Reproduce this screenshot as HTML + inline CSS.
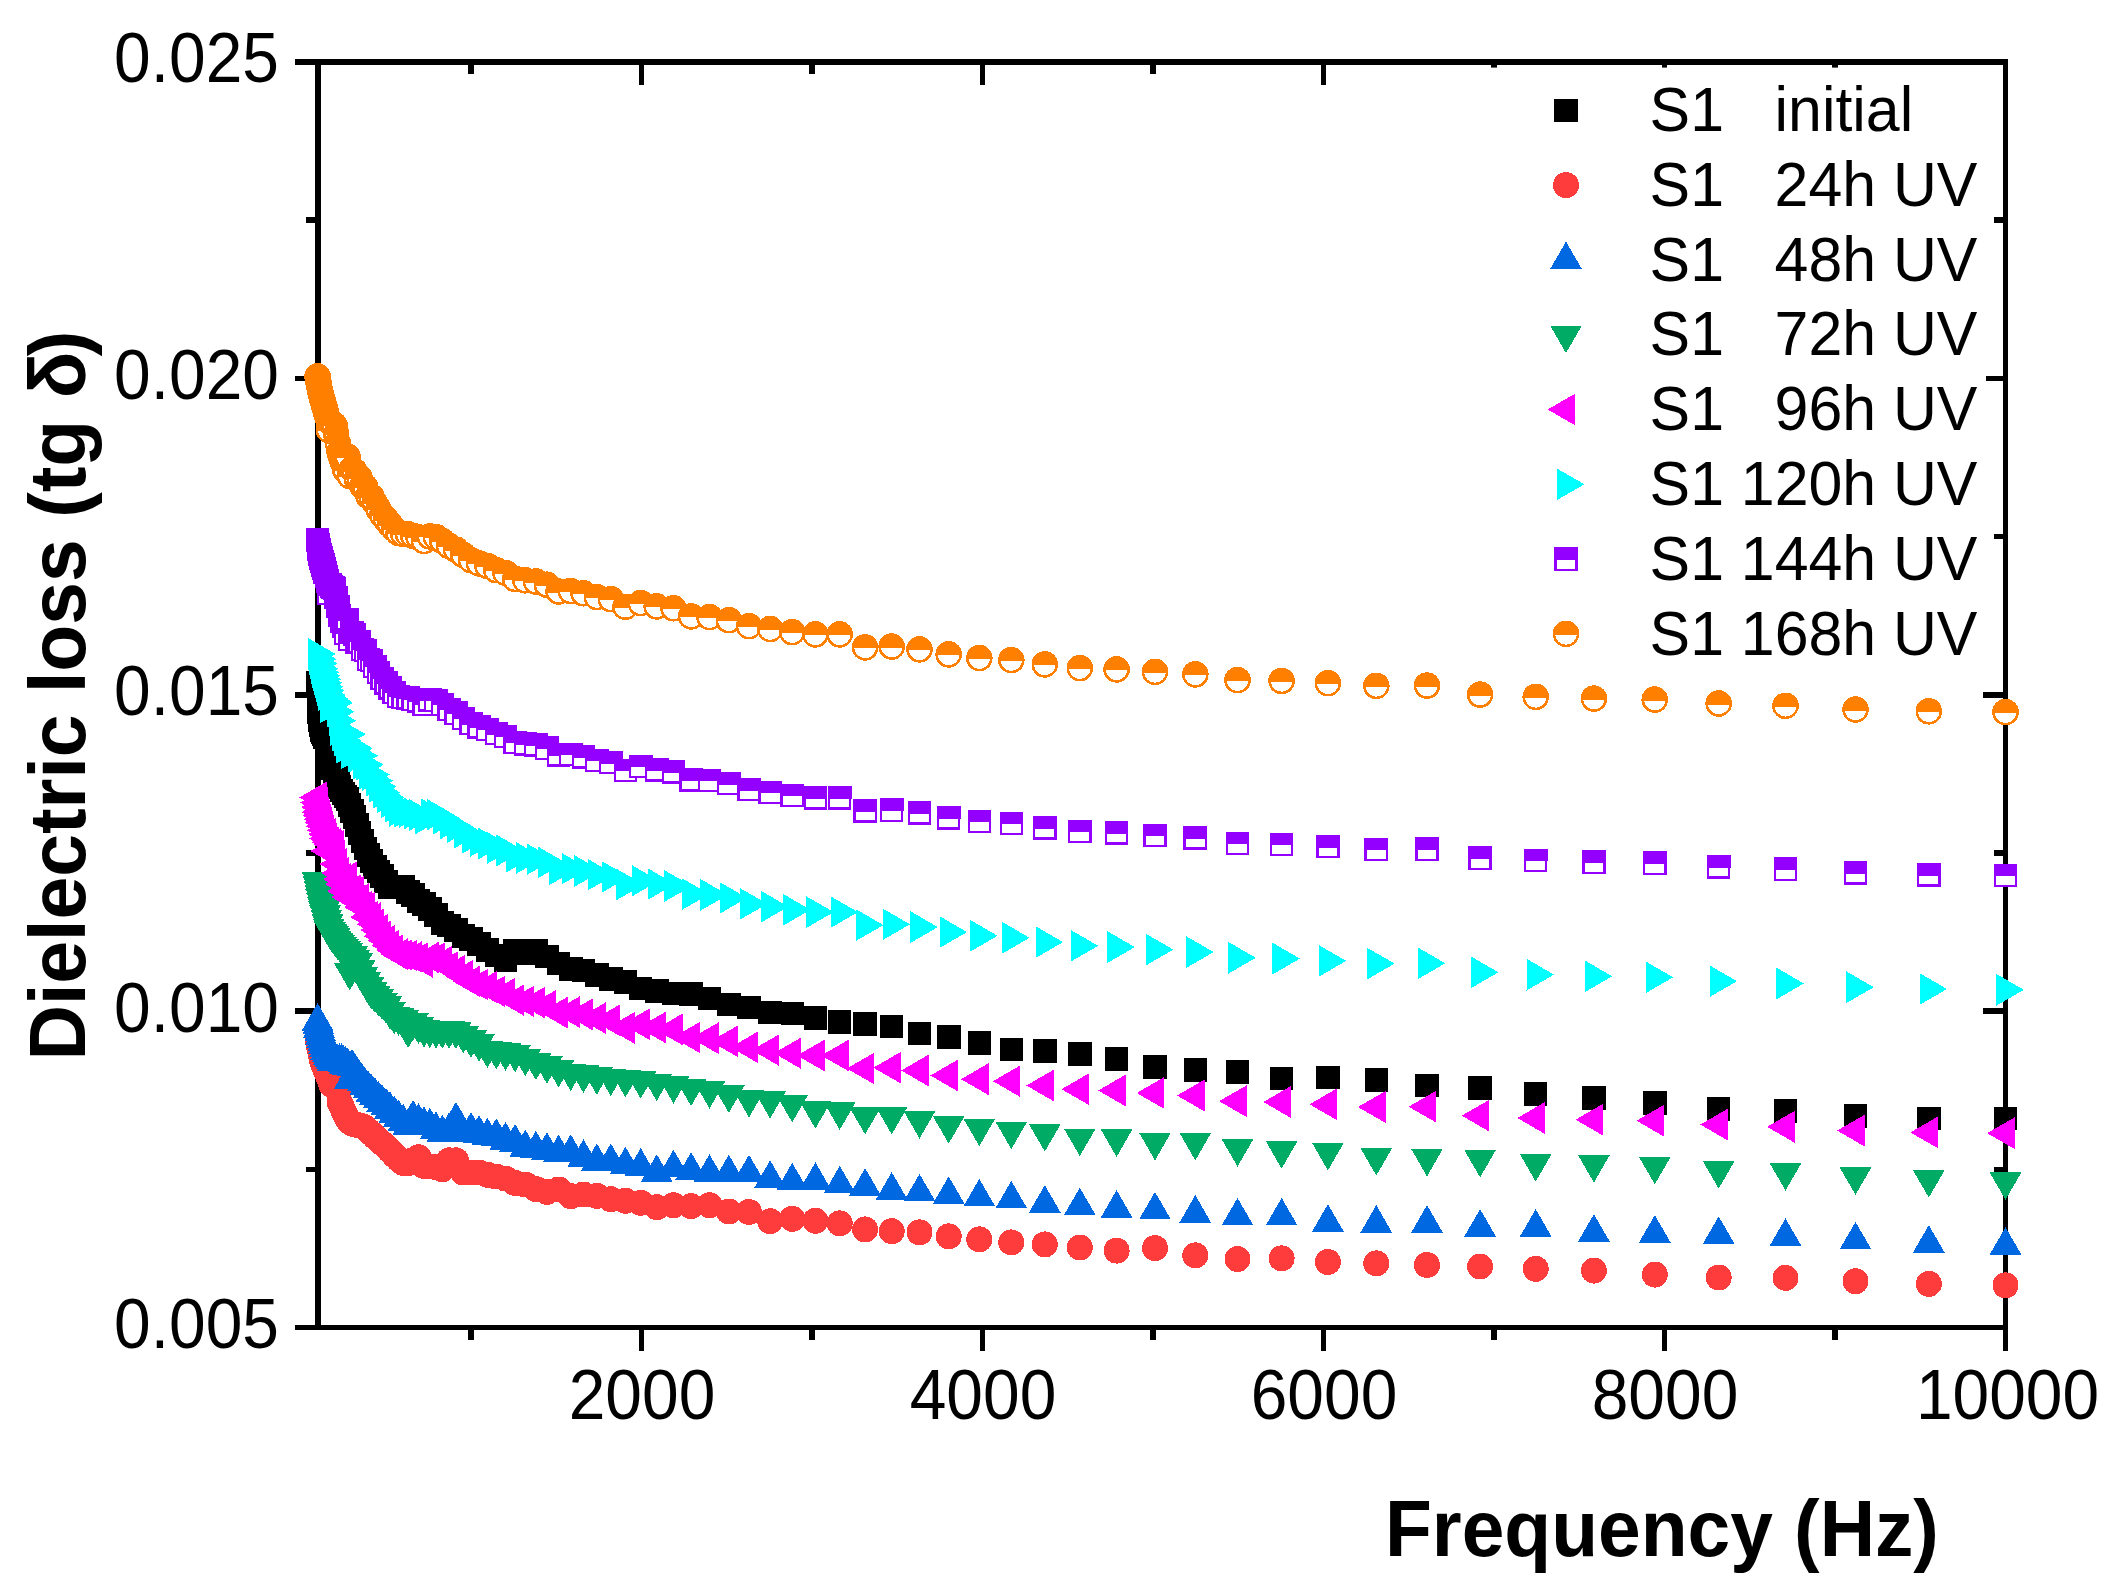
<!DOCTYPE html>
<html><head><meta charset="utf-8"><title>Dielectric loss</title>
<style>html,body{margin:0;padding:0;background:#fff}svg{display:block}text{font-family:"Liberation Sans",Arial,sans-serif;fill:#000}</style></head><body>
<svg width="2116" height="1596" viewBox="0 0 2116 1596">
<rect width="2116" height="1596" fill="#fff"/>
<g stroke="#000" stroke-width="5.5" fill="none" shape-rendering="crispEdges">
<path d="M295 62 H2008.25"/>
<path d="M295 1327.5 H2008.25"/>
<path d="M318 59.25 V1330.25"/>
<path d="M2005.5 59.25 V1351"/>
<path d="M306 220.2 H318"/>
<path d="M1993.5 220.2 H2005.5"/>
<path d="M295 378.4 H318"/>
<path d="M1982.5 378.4 H2005.5"/>
<path d="M306 536.6 H318"/>
<path d="M1993.5 536.6 H2005.5"/>
<path d="M295 694.8 H318"/>
<path d="M1982.5 694.8 H2005.5"/>
<path d="M306 852.9 H318"/>
<path d="M1993.5 852.9 H2005.5"/>
<path d="M295 1011.1 H318"/>
<path d="M1982.5 1011.1 H2005.5"/>
<path d="M306 1169.3 H318"/>
<path d="M1993.5 1169.3 H2005.5"/>
<path d="M471.0 1327.5 V1340"/>
<path d="M471.0 62 V74"/>
<path d="M641.5 1327.5 V1351"/>
<path d="M641.5 62 V85"/>
<path d="M812.0 1327.5 V1340"/>
<path d="M812.0 62 V74"/>
<path d="M982.5 1327.5 V1351"/>
<path d="M982.5 62 V85"/>
<path d="M1153.0 1327.5 V1340"/>
<path d="M1153.0 62 V74"/>
<path d="M1323.5 1327.5 V1351"/>
<path d="M1323.5 62 V85"/>
<path d="M1494.0 1327.5 V1340"/>
<path d="M1494.0 62 V74"/>
<path d="M1664.5 1327.5 V1351"/>
<path d="M1664.5 62 V85"/>
<path d="M1835.0 1327.5 V1340"/>
<path d="M1835.0 62 V74"/>
</g>
<g font-size="65.9" text-anchor="end">
<text transform="translate(279,82.4) scale(1,1.075)">0.025</text>
<text transform="translate(279,398.8) scale(1,1.075)">0.020</text>
<text transform="translate(279,715.1) scale(1,1.075)">0.015</text>
<text transform="translate(279,1031.5) scale(1,1.075)">0.010</text>
<text transform="translate(279,1347.9) scale(1,1.075)">0.005</text>
</g>
<g font-size="65.9" text-anchor="middle">
<text transform="translate(642.0,1418.7) scale(1,1.075)">2000</text>
<text transform="translate(983.0,1418.7) scale(1,1.075)">4000</text>
<text transform="translate(1324.0,1418.7) scale(1,1.075)">6000</text>
<text transform="translate(1665.0,1418.7) scale(1,1.075)">8000</text>
<text transform="translate(2007.5,1418.7) scale(1,1.075)">10000</text>
</g>
<text transform="translate(1385,1556) scale(1,1.04)" font-size="76.7" font-weight="bold">Frequency (Hz)</text>
<text transform="translate(85.1,1060.6) rotate(-90) scale(1,1.04)" font-size="76.9" font-weight="bold">Dielectric loss (tg δ<tspan dx="-4.5">)</tspan></text>
<g shape-rendering="crispEdges">
<g>
<rect x="305.8" y="671.2" width="23.5" height="23.5" fill="#000000"/>
<rect x="306.6" y="688.2" width="23.5" height="23.5" fill="#000000"/>
<rect x="307.4" y="700.2" width="23.5" height="23.5" fill="#000000"/>
<rect x="308.3" y="708.2" width="23.5" height="23.5" fill="#000000"/>
<rect x="309.2" y="713.2" width="23.5" height="23.5" fill="#000000"/>
<rect x="310.2" y="718.2" width="23.5" height="23.5" fill="#000000"/>
<rect x="311.2" y="720.2" width="23.5" height="23.5" fill="#000000"/>
<rect x="312.3" y="722.2" width="23.5" height="23.5" fill="#000000"/>
<rect x="313.4" y="725.9" width="23.5" height="23.5" fill="#000000"/>
<rect x="314.6" y="731.2" width="23.5" height="23.5" fill="#000000"/>
<rect x="315.8" y="736.4" width="23.5" height="23.5" fill="#000000"/>
<rect x="317" y="741.5" width="23.5" height="23.5" fill="#000000"/>
<rect x="318.4" y="746.6" width="23.5" height="23.5" fill="#000000"/>
<rect x="319.8" y="751.7" width="23.5" height="23.5" fill="#000000"/>
<rect x="321.2" y="756.5" width="23.5" height="23.5" fill="#000000"/>
<rect x="322.8" y="761.2" width="23.5" height="23.5" fill="#000000"/>
<rect x="324.4" y="766" width="23.5" height="23.5" fill="#000000"/>
<rect x="326.1" y="770.7" width="23.5" height="23.5" fill="#000000"/>
<rect x="327.8" y="775.4" width="23.5" height="23.5" fill="#000000"/>
<rect x="329.7" y="778.9" width="23.5" height="23.5" fill="#000000"/>
<rect x="331.6" y="781.7" width="23.5" height="23.5" fill="#000000"/>
<rect x="333.6" y="784.5" width="23.5" height="23.5" fill="#000000"/>
<rect x="335.7" y="787.2" width="23.5" height="23.5" fill="#000000"/>
<rect x="337.9" y="793.3" width="23.5" height="23.5" fill="#000000"/>
<rect x="340.2" y="799.4" width="23.5" height="23.5" fill="#000000"/>
<rect x="342.7" y="805.4" width="23.5" height="23.5" fill="#000000"/>
<rect x="345.2" y="813.1" width="23.5" height="23.5" fill="#000000"/>
<rect x="347.9" y="821.4" width="23.5" height="23.5" fill="#000000"/>
<rect x="350.7" y="829.4" width="23.5" height="23.5" fill="#000000"/>
<rect x="353.6" y="836.5" width="23.5" height="23.5" fill="#000000"/>
<rect x="356.6" y="843.4" width="23.5" height="23.5" fill="#000000"/>
<rect x="359.8" y="849.3" width="23.5" height="23.5" fill="#000000"/>
<rect x="363.2" y="855.2" width="23.5" height="23.5" fill="#000000"/>
<rect x="366.7" y="859.8" width="23.5" height="23.5" fill="#000000"/>
<rect x="370.4" y="864.3" width="23.5" height="23.5" fill="#000000"/>
<rect x="374.2" y="869.9" width="23.5" height="23.5" fill="#000000"/>
<rect x="378.2" y="875.2" width="23.5" height="23.5" fill="#000000"/>
<rect x="382.4" y="875.2" width="23.5" height="23.5" fill="#000000"/>
<rect x="386.9" y="875.2" width="23.5" height="23.5" fill="#000000"/>
<rect x="391.5" y="875.2" width="23.5" height="23.5" fill="#000000"/>
<rect x="396.3" y="880" width="23.5" height="23.5" fill="#000000"/>
<rect x="401.4" y="883.4" width="23.5" height="23.5" fill="#000000"/>
<rect x="406.7" y="889" width="23.5" height="23.5" fill="#000000"/>
<rect x="412.3" y="892.1" width="23.5" height="23.5" fill="#000000"/>
<rect x="418.1" y="897.1" width="23.5" height="23.5" fill="#000000"/>
<rect x="424.2" y="903.1" width="23.5" height="23.5" fill="#000000"/>
<rect x="430.6" y="911.2" width="23.5" height="23.5" fill="#000000"/>
<rect x="437.2" y="913.5" width="23.5" height="23.5" fill="#000000"/>
<rect x="444.2" y="918" width="23.5" height="23.5" fill="#000000"/>
<rect x="451.6" y="924.1" width="23.5" height="23.5" fill="#000000"/>
<rect x="459.2" y="927.2" width="23.5" height="23.5" fill="#000000"/>
<rect x="467.3" y="932.2" width="23.5" height="23.5" fill="#000000"/>
<rect x="475.7" y="938.2" width="23.5" height="23.5" fill="#000000"/>
<rect x="484.5" y="943.8" width="23.5" height="23.5" fill="#000000"/>
<rect x="493.7" y="948.1" width="23.5" height="23.5" fill="#000000"/>
<rect x="503.4" y="939.1" width="23.5" height="23.5" fill="#000000"/>
<rect x="513.5" y="941.5" width="23.5" height="23.5" fill="#000000"/>
<rect x="524.1" y="939.1" width="23.5" height="23.5" fill="#000000"/>
<rect x="535.2" y="944.8" width="23.5" height="23.5" fill="#000000"/>
<rect x="546.8" y="951.8" width="23.5" height="23.5" fill="#000000"/>
<rect x="559" y="957.2" width="23.5" height="23.5" fill="#000000"/>
<rect x="571.7" y="958.9" width="23.5" height="23.5" fill="#000000"/>
<rect x="585" y="963.1" width="23.5" height="23.5" fill="#000000"/>
<rect x="599" y="967" width="23.5" height="23.5" fill="#000000"/>
<rect x="613.6" y="970.2" width="23.5" height="23.5" fill="#000000"/>
<rect x="628.9" y="976.5" width="23.5" height="23.5" fill="#000000"/>
<rect x="645" y="979.2" width="23.5" height="23.5" fill="#000000"/>
<rect x="661.8" y="981.9" width="23.5" height="23.5" fill="#000000"/>
<rect x="679.3" y="982.4" width="23.5" height="23.5" fill="#000000"/>
<rect x="697.8" y="986.9" width="23.5" height="23.5" fill="#000000"/>
<rect x="717" y="992.9" width="23.5" height="23.5" fill="#000000"/>
<rect x="737.2" y="995.9" width="23.5" height="23.5" fill="#000000"/>
<rect x="758.3" y="1000.6" width="23.5" height="23.5" fill="#000000"/>
<rect x="780.5" y="1001.9" width="23.5" height="23.5" fill="#000000"/>
<rect x="803.7" y="1006.1" width="23.5" height="23.5" fill="#000000"/>
<rect x="827.9" y="1010.1" width="23.5" height="23.5" fill="#000000"/>
<rect x="853.3" y="1012.3" width="23.5" height="23.5" fill="#000000"/>
<rect x="879.9" y="1014.8" width="23.5" height="23.5" fill="#000000"/>
<rect x="907.8" y="1021.8" width="23.5" height="23.5" fill="#000000"/>
<rect x="937" y="1025.3" width="23.5" height="23.5" fill="#000000"/>
<rect x="967.5" y="1031.2" width="23.5" height="23.5" fill="#000000"/>
<rect x="999.5" y="1037.7" width="23.5" height="23.5" fill="#000000"/>
<rect x="1033" y="1039.2" width="23.5" height="23.5" fill="#000000"/>
<rect x="1068.1" y="1042" width="23.5" height="23.5" fill="#000000"/>
<rect x="1104.8" y="1047.3" width="23.5" height="23.5" fill="#000000"/>
<rect x="1143.3" y="1055.2" width="23.5" height="23.5" fill="#000000"/>
<rect x="1183.5" y="1058.2" width="23.5" height="23.5" fill="#000000"/>
<rect x="1225.7" y="1060.3" width="23.5" height="23.5" fill="#000000"/>
<rect x="1269.9" y="1066.8" width="23.5" height="23.5" fill="#000000"/>
<rect x="1316.1" y="1065.7" width="23.5" height="23.5" fill="#000000"/>
<rect x="1364.5" y="1068.2" width="23.5" height="23.5" fill="#000000"/>
<rect x="1415.2" y="1073.8" width="23.5" height="23.5" fill="#000000"/>
<rect x="1468.3" y="1076" width="23.5" height="23.5" fill="#000000"/>
<rect x="1523.9" y="1082.2" width="23.5" height="23.5" fill="#000000"/>
<rect x="1582.1" y="1086" width="23.5" height="23.5" fill="#000000"/>
<rect x="1643.1" y="1091" width="23.5" height="23.5" fill="#000000"/>
<rect x="1706.9" y="1097" width="23.5" height="23.5" fill="#000000"/>
<rect x="1773.7" y="1099.2" width="23.5" height="23.5" fill="#000000"/>
<rect x="1843.7" y="1104" width="23.5" height="23.5" fill="#000000"/>
<rect x="1917" y="1106.8" width="23.5" height="23.5" fill="#000000"/>
<rect x="1993.8" y="1106.8" width="23.5" height="23.5" fill="#000000"/>
</g>
<g>
<circle cx="317.6" cy="1038" r="13" fill="#FF3C3C"/>
<circle cx="318.4" cy="1042.4" r="13" fill="#FF3C3C"/>
<circle cx="319.2" cy="1046.9" r="13" fill="#FF3C3C"/>
<circle cx="320.1" cy="1051.3" r="13" fill="#FF3C3C"/>
<circle cx="321" cy="1055.7" r="13" fill="#FF3C3C"/>
<circle cx="322" cy="1060.1" r="13" fill="#FF3C3C"/>
<circle cx="323" cy="1063.8" r="13" fill="#FF3C3C"/>
<circle cx="324" cy="1066.4" r="13" fill="#FF3C3C"/>
<circle cx="325.1" cy="1068.9" r="13" fill="#FF3C3C"/>
<circle cx="326.3" cy="1071.5" r="13" fill="#FF3C3C"/>
<circle cx="327.5" cy="1074" r="13" fill="#FF3C3C"/>
<circle cx="328.8" cy="1077.7" r="13" fill="#FF3C3C"/>
<circle cx="330.1" cy="1081.3" r="13" fill="#FF3C3C"/>
<circle cx="331.5" cy="1085" r="13" fill="#FF3C3C"/>
<circle cx="333" cy="1085.9" r="13" fill="#FF3C3C"/>
<circle cx="334.5" cy="1086.8" r="13" fill="#FF3C3C"/>
<circle cx="336.1" cy="1088.1" r="13" fill="#FF3C3C"/>
<circle cx="337.8" cy="1090" r="13" fill="#FF3C3C"/>
<circle cx="339.6" cy="1101.8" r="13" fill="#FF3C3C"/>
<circle cx="341.4" cy="1106.2" r="13" fill="#FF3C3C"/>
<circle cx="343.3" cy="1110.4" r="13" fill="#FF3C3C"/>
<circle cx="345.3" cy="1114.5" r="13" fill="#FF3C3C"/>
<circle cx="347.5" cy="1118.6" r="13" fill="#FF3C3C"/>
<circle cx="349.7" cy="1122.1" r="13" fill="#FF3C3C"/>
<circle cx="352" cy="1123.5" r="13" fill="#FF3C3C"/>
<circle cx="354.4" cy="1124.2" r="13" fill="#FF3C3C"/>
<circle cx="357" cy="1124.8" r="13" fill="#FF3C3C"/>
<circle cx="359.6" cy="1125.5" r="13" fill="#FF3C3C"/>
<circle cx="362.4" cy="1126.2" r="13" fill="#FF3C3C"/>
<circle cx="365.3" cy="1127.8" r="13" fill="#FF3C3C"/>
<circle cx="368.4" cy="1130.7" r="13" fill="#FF3C3C"/>
<circle cx="371.6" cy="1133.6" r="13" fill="#FF3C3C"/>
<circle cx="374.9" cy="1136.7" r="13" fill="#FF3C3C"/>
<circle cx="378.4" cy="1140" r="13" fill="#FF3C3C"/>
<circle cx="382.1" cy="1143.3" r="13" fill="#FF3C3C"/>
<circle cx="386" cy="1146.6" r="13" fill="#FF3C3C"/>
<circle cx="390" cy="1150.7" r="13" fill="#FF3C3C"/>
<circle cx="394.2" cy="1155.1" r="13" fill="#FF3C3C"/>
<circle cx="398.6" cy="1159.4" r="13" fill="#FF3C3C"/>
<circle cx="403.2" cy="1163" r="13" fill="#FF3C3C"/>
<circle cx="408.1" cy="1163" r="13" fill="#FF3C3C"/>
<circle cx="413.1" cy="1160" r="13" fill="#FF3C3C"/>
<circle cx="418.5" cy="1157.2" r="13" fill="#FF3C3C"/>
<circle cx="424" cy="1166" r="13" fill="#FF3C3C"/>
<circle cx="429.8" cy="1166.5" r="13" fill="#FF3C3C"/>
<circle cx="435.9" cy="1167" r="13" fill="#FF3C3C"/>
<circle cx="442.3" cy="1169.3" r="13" fill="#FF3C3C"/>
<circle cx="449" cy="1160.3" r="13" fill="#FF3C3C"/>
<circle cx="456" cy="1160.3" r="13" fill="#FF3C3C"/>
<circle cx="463.3" cy="1172.5" r="13" fill="#FF3C3C"/>
<circle cx="471" cy="1172.5" r="13" fill="#FF3C3C"/>
<circle cx="479" cy="1172.5" r="13" fill="#FF3C3C"/>
<circle cx="487.4" cy="1174.7" r="13" fill="#FF3C3C"/>
<circle cx="496.3" cy="1176.5" r="13" fill="#FF3C3C"/>
<circle cx="505.5" cy="1178.5" r="13" fill="#FF3C3C"/>
<circle cx="515.1" cy="1183" r="13" fill="#FF3C3C"/>
<circle cx="525.3" cy="1184.5" r="13" fill="#FF3C3C"/>
<circle cx="535.9" cy="1189" r="13" fill="#FF3C3C"/>
<circle cx="546.9" cy="1191.8" r="13" fill="#FF3C3C"/>
<circle cx="558.6" cy="1189.5" r="13" fill="#FF3C3C"/>
<circle cx="570.7" cy="1196.2" r="13" fill="#FF3C3C"/>
<circle cx="583.5" cy="1194.5" r="13" fill="#FF3C3C"/>
<circle cx="596.8" cy="1195.8" r="13" fill="#FF3C3C"/>
<circle cx="610.8" cy="1199.2" r="13" fill="#FF3C3C"/>
<circle cx="625.4" cy="1200.8" r="13" fill="#FF3C3C"/>
<circle cx="640.7" cy="1202.8" r="13" fill="#FF3C3C"/>
<circle cx="656.7" cy="1207.2" r="13" fill="#FF3C3C"/>
<circle cx="673.5" cy="1205.2" r="13" fill="#FF3C3C"/>
<circle cx="691.1" cy="1206.2" r="13" fill="#FF3C3C"/>
<circle cx="709.5" cy="1205.2" r="13" fill="#FF3C3C"/>
<circle cx="728.8" cy="1211.5" r="13" fill="#FF3C3C"/>
<circle cx="749" cy="1212" r="13" fill="#FF3C3C"/>
<circle cx="770.1" cy="1221.2" r="13" fill="#FF3C3C"/>
<circle cx="792.2" cy="1218.8" r="13" fill="#FF3C3C"/>
<circle cx="815.4" cy="1220.8" r="13" fill="#FF3C3C"/>
<circle cx="839.7" cy="1223.4" r="13" fill="#FF3C3C"/>
<circle cx="865.1" cy="1229.4" r="13" fill="#FF3C3C"/>
<circle cx="891.7" cy="1231.2" r="13" fill="#FF3C3C"/>
<circle cx="919.5" cy="1232.4" r="13" fill="#FF3C3C"/>
<circle cx="948.7" cy="1236.4" r="13" fill="#FF3C3C"/>
<circle cx="979.3" cy="1239.4" r="13" fill="#FF3C3C"/>
<circle cx="1011.3" cy="1242.4" r="13" fill="#FF3C3C"/>
<circle cx="1044.8" cy="1244.4" r="13" fill="#FF3C3C"/>
<circle cx="1079.8" cy="1247.5" r="13" fill="#FF3C3C"/>
<circle cx="1116.6" cy="1250.6" r="13" fill="#FF3C3C"/>
<circle cx="1155" cy="1248.1" r="13" fill="#FF3C3C"/>
<circle cx="1195.3" cy="1255.4" r="13" fill="#FF3C3C"/>
<circle cx="1237.5" cy="1259.1" r="13" fill="#FF3C3C"/>
<circle cx="1281.6" cy="1258.4" r="13" fill="#FF3C3C"/>
<circle cx="1327.9" cy="1262" r="13" fill="#FF3C3C"/>
<circle cx="1376.3" cy="1263.4" r="13" fill="#FF3C3C"/>
<circle cx="1427" cy="1265" r="13" fill="#FF3C3C"/>
<circle cx="1480.1" cy="1266.5" r="13" fill="#FF3C3C"/>
<circle cx="1535.7" cy="1268.9" r="13" fill="#FF3C3C"/>
<circle cx="1593.9" cy="1270.6" r="13" fill="#FF3C3C"/>
<circle cx="1654.8" cy="1274.6" r="13" fill="#FF3C3C"/>
<circle cx="1718.7" cy="1277.5" r="13" fill="#FF3C3C"/>
<circle cx="1785.5" cy="1277.9" r="13" fill="#FF3C3C"/>
<circle cx="1855.5" cy="1281.2" r="13" fill="#FF3C3C"/>
<circle cx="1928.8" cy="1283.9" r="13" fill="#FF3C3C"/>
<circle cx="2005.5" cy="1285.4" r="13" fill="#FF3C3C"/>
</g>
<g>
<path d="M317.6 1003.1L333.4 1030.7L301.7 1030.7Z" fill="#0068E0"/>
<path d="M318.4 1006.6L334.3 1034.2L302.5 1034.2Z" fill="#0068E0"/>
<path d="M319.2 1010.1L335.1 1037.6L303.3 1037.6Z" fill="#0068E0"/>
<path d="M320.1 1013.6L336 1041.1L304.2 1041.1Z" fill="#0068E0"/>
<path d="M321 1017.1L336.9 1044.6L305.1 1044.6Z" fill="#0068E0"/>
<path d="M322 1020.6L337.9 1048.1L306.1 1048.1Z" fill="#0068E0"/>
<path d="M323 1023.8L338.9 1051.3L307.1 1051.3Z" fill="#0068E0"/>
<path d="M324 1026.5L339.9 1054.1L308.1 1054.1Z" fill="#0068E0"/>
<path d="M325.1 1029.3L341 1056.8L309.2 1056.8Z" fill="#0068E0"/>
<path d="M326.3 1032.1L342.2 1059.6L310.4 1059.6Z" fill="#0068E0"/>
<path d="M327.5 1034.9L343.4 1062.4L311.6 1062.4Z" fill="#0068E0"/>
<path d="M328.8 1037.6L344.7 1065.2L312.9 1065.2Z" fill="#0068E0"/>
<path d="M330.1 1039.6L346 1067.2L314.2 1067.2Z" fill="#0068E0"/>
<path d="M331.5 1041.6L347.4 1069.2L315.6 1069.2Z" fill="#0068E0"/>
<path d="M333 1043.6L348.9 1071.2L317.1 1071.2Z" fill="#0068E0"/>
<path d="M334.5 1043.5L350.4 1071.1L318.6 1071.1Z" fill="#0068E0"/>
<path d="M336.1 1043.4L352 1070.9L320.2 1070.9Z" fill="#0068E0"/>
<path d="M337.8 1043.3L353.7 1070.8L321.9 1070.8Z" fill="#0068E0"/>
<path d="M339.6 1043.2L355.5 1070.7L323.7 1070.7Z" fill="#0068E0"/>
<path d="M341.4 1043L357.3 1070.6L325.5 1070.6Z" fill="#0068E0"/>
<path d="M343.3 1044.6L359.2 1072.1L327.4 1072.1Z" fill="#0068E0"/>
<path d="M345.3 1046.1L361.2 1073.6L329.4 1073.6Z" fill="#0068E0"/>
<path d="M347.5 1047.6L363.4 1075.2L331.6 1075.2Z" fill="#0068E0"/>
<path d="M349.7 1061.6L365.6 1089.2L333.8 1089.2Z" fill="#0068E0"/>
<path d="M352 1048.7L367.9 1076.3L336.1 1076.3Z" fill="#0068E0"/>
<path d="M354.4 1052.5L370.3 1080L338.5 1080Z" fill="#0068E0"/>
<path d="M357 1056.3L372.9 1083.8L341.1 1083.8Z" fill="#0068E0"/>
<path d="M359.6 1060L375.5 1087.6L343.7 1087.6Z" fill="#0068E0"/>
<path d="M362.4 1063.8L378.3 1091.3L346.5 1091.3Z" fill="#0068E0"/>
<path d="M365.3 1067.5L381.2 1095.1L349.4 1095.1Z" fill="#0068E0"/>
<path d="M368.4 1070.8L384.3 1098.4L352.5 1098.4Z" fill="#0068E0"/>
<path d="M371.6 1074.1L387.5 1101.7L355.7 1101.7Z" fill="#0068E0"/>
<path d="M374.9 1077.4L390.8 1104.9L359 1104.9Z" fill="#0068E0"/>
<path d="M378.4 1080.7L394.3 1108.3L362.5 1108.3Z" fill="#0068E0"/>
<path d="M382.1 1084.3L398 1111.8L366.2 1111.8Z" fill="#0068E0"/>
<path d="M386 1087.8L401.9 1115.3L370.1 1115.3Z" fill="#0068E0"/>
<path d="M390 1091.3L405.9 1118.9L374.1 1118.9Z" fill="#0068E0"/>
<path d="M394.2 1095.5L410.1 1123L378.3 1123Z" fill="#0068E0"/>
<path d="M398.6 1099.7L414.5 1127.2L382.7 1127.2Z" fill="#0068E0"/>
<path d="M403.2 1103.8L419.1 1131.4L387.3 1131.4Z" fill="#0068E0"/>
<path d="M408.1 1107.6L424 1135.2L392.2 1135.2Z" fill="#0068E0"/>
<path d="M413.1 1100L429 1127.6L397.2 1127.6Z" fill="#0068E0"/>
<path d="M418.5 1103.2L434.4 1130.8L402.6 1130.8Z" fill="#0068E0"/>
<path d="M424 1106.3L439.9 1133.9L408.1 1133.9Z" fill="#0068E0"/>
<path d="M429.8 1107.6L445.7 1135.2L413.9 1135.2Z" fill="#0068E0"/>
<path d="M435.9 1111.3L451.8 1138.9L420 1138.9Z" fill="#0068E0"/>
<path d="M442.3 1114.5L458.2 1142.1L426.4 1142.1Z" fill="#0068E0"/>
<path d="M449 1112.6L464.9 1140.2L433.1 1140.2Z" fill="#0068E0"/>
<path d="M456 1101.9L471.9 1129.5L440.1 1129.5Z" fill="#0068E0"/>
<path d="M463.3 1114.6L479.2 1142.2L447.4 1142.2Z" fill="#0068E0"/>
<path d="M471 1112L486.9 1139.6L455.1 1139.6Z" fill="#0068E0"/>
<path d="M479 1115.1L494.9 1142.7L463.1 1142.7Z" fill="#0068E0"/>
<path d="M487.4 1117.6L503.3 1145.2L471.5 1145.2Z" fill="#0068E0"/>
<path d="M496.3 1118.2L512.2 1145.8L480.4 1145.8Z" fill="#0068E0"/>
<path d="M505.5 1122L521.4 1149.6L489.6 1149.6Z" fill="#0068E0"/>
<path d="M515.1 1123.9L531 1151.5L499.2 1151.5Z" fill="#0068E0"/>
<path d="M525.3 1129.5L541.2 1157.1L509.4 1157.1Z" fill="#0068E0"/>
<path d="M535.9 1130.7L551.8 1158.3L520 1158.3Z" fill="#0068E0"/>
<path d="M546.9 1132.1L562.8 1159.7L531 1159.7Z" fill="#0068E0"/>
<path d="M558.6 1134.6L574.5 1162.2L542.7 1162.2Z" fill="#0068E0"/>
<path d="M570.7 1134.3L586.6 1161.8L554.8 1161.8Z" fill="#0068E0"/>
<path d="M583.5 1139.3L599.4 1166.8L567.6 1166.8Z" fill="#0068E0"/>
<path d="M596.8 1143.5L612.7 1171.1L580.9 1171.1Z" fill="#0068E0"/>
<path d="M610.8 1143.5L626.7 1171.1L594.9 1171.1Z" fill="#0068E0"/>
<path d="M625.4 1146.8L641.3 1174.3L609.5 1174.3Z" fill="#0068E0"/>
<path d="M640.7 1148L656.6 1175.6L624.8 1175.6Z" fill="#0068E0"/>
<path d="M656.7 1154.3L672.6 1181.8L640.8 1181.8Z" fill="#0068E0"/>
<path d="M673.5 1149.8L689.4 1177.3L657.6 1177.3Z" fill="#0068E0"/>
<path d="M691.1 1152.3L707 1179.8L675.2 1179.8Z" fill="#0068E0"/>
<path d="M709.5 1154.3L725.4 1181.8L693.6 1181.8Z" fill="#0068E0"/>
<path d="M728.8 1154.8L744.7 1182.3L712.9 1182.3Z" fill="#0068E0"/>
<path d="M749 1154.8L764.9 1182.3L733.1 1182.3Z" fill="#0068E0"/>
<path d="M770.1 1160.3L786 1187.8L754.2 1187.8Z" fill="#0068E0"/>
<path d="M792.2 1162.8L808.1 1190.3L776.3 1190.3Z" fill="#0068E0"/>
<path d="M815.4 1162.3L831.3 1189.9L799.5 1189.9Z" fill="#0068E0"/>
<path d="M839.7 1165.9L855.6 1193.4L823.8 1193.4Z" fill="#0068E0"/>
<path d="M865.1 1168.1L881 1195.7L849.2 1195.7Z" fill="#0068E0"/>
<path d="M891.7 1172.1L907.6 1199.7L875.8 1199.7Z" fill="#0068E0"/>
<path d="M919.5 1173.9L935.4 1201.4L903.6 1201.4Z" fill="#0068E0"/>
<path d="M948.7 1176.4L964.6 1203.9L932.8 1203.9Z" fill="#0068E0"/>
<path d="M979.3 1178.9L995.2 1206.4L963.4 1206.4Z" fill="#0068E0"/>
<path d="M1011.3 1180.9L1027.2 1208.4L995.4 1208.4Z" fill="#0068E0"/>
<path d="M1044.8 1185.1L1060.7 1212.7L1028.9 1212.7Z" fill="#0068E0"/>
<path d="M1079.8 1187.6L1095.7 1215.2L1063.9 1215.2Z" fill="#0068E0"/>
<path d="M1116.6 1190.1L1132.5 1217.7L1100.7 1217.7Z" fill="#0068E0"/>
<path d="M1155 1191.9L1170.9 1219.4L1139.1 1219.4Z" fill="#0068E0"/>
<path d="M1195.3 1195.1L1211.2 1222.7L1179.4 1222.7Z" fill="#0068E0"/>
<path d="M1237.5 1197.9L1253.4 1225.4L1221.6 1225.4Z" fill="#0068E0"/>
<path d="M1281.6 1197.9L1297.5 1225.4L1265.7 1225.4Z" fill="#0068E0"/>
<path d="M1327.9 1204.1L1343.8 1231.7L1312 1231.7Z" fill="#0068E0"/>
<path d="M1376.3 1205.1L1392.2 1232.7L1360.4 1232.7Z" fill="#0068E0"/>
<path d="M1427 1205.1L1442.9 1232.7L1411.1 1232.7Z" fill="#0068E0"/>
<path d="M1480.1 1209.1L1496 1236.7L1464.2 1236.7Z" fill="#0068E0"/>
<path d="M1535.7 1209.1L1551.6 1236.7L1519.8 1236.7Z" fill="#0068E0"/>
<path d="M1593.9 1214.1L1609.8 1241.7L1578 1241.7Z" fill="#0068E0"/>
<path d="M1654.8 1215.1L1670.7 1242.7L1638.9 1242.7Z" fill="#0068E0"/>
<path d="M1718.7 1216.4L1734.6 1243.9L1702.8 1243.9Z" fill="#0068E0"/>
<path d="M1785.5 1218.4L1801.4 1245.9L1769.6 1245.9Z" fill="#0068E0"/>
<path d="M1855.5 1221.9L1871.4 1249.4L1839.6 1249.4Z" fill="#0068E0"/>
<path d="M1928.8 1225.1L1944.7 1252.7L1912.9 1252.7Z" fill="#0068E0"/>
<path d="M2005.5 1227.1L2021.4 1254.7L1989.6 1254.7Z" fill="#0068E0"/>
</g>
<g>
<path d="M317.6 899.9L333.4 872.3L301.7 872.3Z" fill="#00AB66"/>
<path d="M318.4 904L334.3 876.4L302.5 876.4Z" fill="#00AB66"/>
<path d="M319.2 908.1L335.1 880.6L303.3 880.6Z" fill="#00AB66"/>
<path d="M320.1 912.2L336 884.7L304.2 884.7Z" fill="#00AB66"/>
<path d="M321 916.4L336.9 888.8L305.1 888.8Z" fill="#00AB66"/>
<path d="M322 920.5L337.9 893L306.1 893Z" fill="#00AB66"/>
<path d="M323 924.6L338.9 897.1L307.1 897.1Z" fill="#00AB66"/>
<path d="M324 928.8L339.9 901.2L308.1 901.2Z" fill="#00AB66"/>
<path d="M325.1 932.9L341 905.4L309.2 905.4Z" fill="#00AB66"/>
<path d="M326.3 937.3L342.2 909.7L310.4 909.7Z" fill="#00AB66"/>
<path d="M327.5 941.9L343.4 914.3L311.6 914.3Z" fill="#00AB66"/>
<path d="M328.8 946.5L344.7 918.9L312.9 918.9Z" fill="#00AB66"/>
<path d="M330.1 949.8L346 922.2L314.2 922.2Z" fill="#00AB66"/>
<path d="M331.5 951.8L347.4 924.2L315.6 924.2Z" fill="#00AB66"/>
<path d="M333 953.8L348.9 926.3L317.1 926.3Z" fill="#00AB66"/>
<path d="M334.5 955.9L350.4 928.4L318.6 928.4Z" fill="#00AB66"/>
<path d="M336.1 958L352 930.5L320.2 930.5Z" fill="#00AB66"/>
<path d="M337.8 960.1L353.7 932.6L321.9 932.6Z" fill="#00AB66"/>
<path d="M339.6 962.2L355.5 934.6L323.7 934.6Z" fill="#00AB66"/>
<path d="M341.4 964.2L357.3 936.7L325.5 936.7Z" fill="#00AB66"/>
<path d="M343.3 966.3L359.2 938.7L327.4 938.7Z" fill="#00AB66"/>
<path d="M345.3 968.3L361.2 940.8L329.4 940.8Z" fill="#00AB66"/>
<path d="M347.5 970.4L363.4 942.8L331.6 942.8Z" fill="#00AB66"/>
<path d="M349.7 990.4L365.6 962.8L333.8 962.8Z" fill="#00AB66"/>
<path d="M352 973.9L367.9 946.3L336.1 946.3Z" fill="#00AB66"/>
<path d="M354.4 977.3L370.3 949.8L338.5 949.8Z" fill="#00AB66"/>
<path d="M357 980.8L372.9 953.2L341.1 953.2Z" fill="#00AB66"/>
<path d="M359.6 987.7L375.5 960.1L343.7 960.1Z" fill="#00AB66"/>
<path d="M362.4 994.4L378.3 966.8L346.5 966.8Z" fill="#00AB66"/>
<path d="M365.3 999.6L381.2 972L349.4 972Z" fill="#00AB66"/>
<path d="M368.4 1004.8L384.3 977.3L352.5 977.3Z" fill="#00AB66"/>
<path d="M371.6 1009.6L387.5 982.1L355.7 982.1Z" fill="#00AB66"/>
<path d="M374.9 1013.1L390.8 985.5L359 985.5Z" fill="#00AB66"/>
<path d="M378.4 1016.5L394.3 988.9L362.5 988.9Z" fill="#00AB66"/>
<path d="M382.1 1020.2L398 992.7L366.2 992.7Z" fill="#00AB66"/>
<path d="M386 1024L401.9 996.4L370.1 996.4Z" fill="#00AB66"/>
<path d="M390 1029.5L405.9 1002L374.1 1002Z" fill="#00AB66"/>
<path d="M394.2 1034.3L410.1 1006.7L378.3 1006.7Z" fill="#00AB66"/>
<path d="M398.6 1035.8L414.5 1008.3L382.7 1008.3Z" fill="#00AB66"/>
<path d="M403.2 1037.4L419.1 1009.8L387.3 1009.8Z" fill="#00AB66"/>
<path d="M408.1 1048.2L424 1020.6L392.2 1020.6Z" fill="#00AB66"/>
<path d="M413.1 1040.3L429 1012.7L397.2 1012.7Z" fill="#00AB66"/>
<path d="M418.5 1044.2L434.4 1016.7L402.6 1016.7Z" fill="#00AB66"/>
<path d="M424 1047.8L439.9 1020.3L408.1 1020.3Z" fill="#00AB66"/>
<path d="M429.8 1048.2L445.7 1020.7L413.9 1020.7Z" fill="#00AB66"/>
<path d="M435.9 1048.6L451.8 1021.1L420 1021.1Z" fill="#00AB66"/>
<path d="M442.3 1048.8L458.2 1021.2L426.4 1021.2Z" fill="#00AB66"/>
<path d="M449 1048.9L464.9 1021.4L433.1 1021.4Z" fill="#00AB66"/>
<path d="M456 1049.1L471.9 1021.5L440.1 1021.5Z" fill="#00AB66"/>
<path d="M463.3 1053.6L479.2 1026L447.4 1026Z" fill="#00AB66"/>
<path d="M471 1057.9L486.9 1030.4L455.1 1030.4Z" fill="#00AB66"/>
<path d="M479 1061.6L494.9 1034L463.1 1034Z" fill="#00AB66"/>
<path d="M487.4 1068L503.3 1040.5L471.5 1040.5Z" fill="#00AB66"/>
<path d="M496.3 1069.4L512.2 1041.9L480.4 1041.9Z" fill="#00AB66"/>
<path d="M505.5 1070.8L521.4 1043.3L489.6 1043.3Z" fill="#00AB66"/>
<path d="M515.1 1072.3L531 1044.7L499.2 1044.7Z" fill="#00AB66"/>
<path d="M525.3 1076.2L541.2 1048.7L509.4 1048.7Z" fill="#00AB66"/>
<path d="M535.9 1080.1L551.8 1052.6L520 1052.6Z" fill="#00AB66"/>
<path d="M546.9 1083.8L562.8 1056.2L531 1056.2Z" fill="#00AB66"/>
<path d="M558.6 1087.4L574.5 1059.9L542.7 1059.9Z" fill="#00AB66"/>
<path d="M570.7 1091.1L586.6 1063.6L554.8 1063.6Z" fill="#00AB66"/>
<path d="M583.5 1093L599.4 1065.4L567.6 1065.4Z" fill="#00AB66"/>
<path d="M596.8 1094.9L612.7 1067.3L580.9 1067.3Z" fill="#00AB66"/>
<path d="M610.8 1096.1L626.7 1068.6L594.9 1068.6Z" fill="#00AB66"/>
<path d="M625.4 1097.4L641.3 1069.8L609.5 1069.8Z" fill="#00AB66"/>
<path d="M640.7 1098.6L656.6 1071.1L624.8 1071.1Z" fill="#00AB66"/>
<path d="M656.7 1101.1L672.6 1073.6L640.8 1073.6Z" fill="#00AB66"/>
<path d="M673.5 1103.6L689.4 1076.1L657.6 1076.1Z" fill="#00AB66"/>
<path d="M691.1 1106.1L707 1078.6L675.2 1078.6Z" fill="#00AB66"/>
<path d="M709.5 1108.6L725.4 1081.1L693.6 1081.1Z" fill="#00AB66"/>
<path d="M728.8 1112.9L744.7 1085.3L712.9 1085.3Z" fill="#00AB66"/>
<path d="M749 1117.4L764.9 1089.8L733.1 1089.8Z" fill="#00AB66"/>
<path d="M770.1 1118.6L786 1091.1L754.2 1091.1Z" fill="#00AB66"/>
<path d="M792.2 1122.4L808.1 1094.8L776.3 1094.8Z" fill="#00AB66"/>
<path d="M815.4 1128.6L831.3 1101.1L799.5 1101.1Z" fill="#00AB66"/>
<path d="M839.7 1129.9L855.6 1102.3L823.8 1102.3Z" fill="#00AB66"/>
<path d="M865.1 1134.4L881 1106.8L849.2 1106.8Z" fill="#00AB66"/>
<path d="M891.7 1134.4L907.6 1106.8L875.8 1106.8Z" fill="#00AB66"/>
<path d="M919.5 1138.6L935.4 1111.1L903.6 1111.1Z" fill="#00AB66"/>
<path d="M948.7 1143.6L964.6 1116.1L932.8 1116.1Z" fill="#00AB66"/>
<path d="M979.3 1146.1L995.2 1118.6L963.4 1118.6Z" fill="#00AB66"/>
<path d="M1011.3 1149.1L1027.2 1121.6L995.4 1121.6Z" fill="#00AB66"/>
<path d="M1044.8 1151.6L1060.7 1124.1L1028.9 1124.1Z" fill="#00AB66"/>
<path d="M1079.8 1156.1L1095.7 1128.6L1063.9 1128.6Z" fill="#00AB66"/>
<path d="M1116.6 1156.9L1132.5 1129.3L1100.7 1129.3Z" fill="#00AB66"/>
<path d="M1155 1160.4L1170.9 1132.8L1139.1 1132.8Z" fill="#00AB66"/>
<path d="M1195.3 1160.4L1211.2 1132.8L1179.4 1132.8Z" fill="#00AB66"/>
<path d="M1237.5 1166.6L1253.4 1139.1L1221.6 1139.1Z" fill="#00AB66"/>
<path d="M1281.6 1168.6L1297.5 1141.1L1265.7 1141.1Z" fill="#00AB66"/>
<path d="M1327.9 1170.4L1343.8 1142.8L1312 1142.8Z" fill="#00AB66"/>
<path d="M1376.3 1175.6L1392.2 1148.1L1360.4 1148.1Z" fill="#00AB66"/>
<path d="M1427 1176.4L1442.9 1148.8L1411.1 1148.8Z" fill="#00AB66"/>
<path d="M1480.1 1177.4L1496 1149.8L1464.2 1149.8Z" fill="#00AB66"/>
<path d="M1535.7 1181.6L1551.6 1154.1L1519.8 1154.1Z" fill="#00AB66"/>
<path d="M1593.9 1182.6L1609.8 1155.1L1578 1155.1Z" fill="#00AB66"/>
<path d="M1654.8 1184.4L1670.7 1156.8L1638.9 1156.8Z" fill="#00AB66"/>
<path d="M1718.7 1188.6L1734.6 1161.1L1702.8 1161.1Z" fill="#00AB66"/>
<path d="M1785.5 1190.6L1801.4 1163.1L1769.6 1163.1Z" fill="#00AB66"/>
<path d="M1855.5 1194.9L1871.4 1167.3L1839.6 1167.3Z" fill="#00AB66"/>
<path d="M1928.8 1197.6L1944.7 1170.1L1912.9 1170.1Z" fill="#00AB66"/>
<path d="M2005.5 1199.9L2021.4 1172.3L1989.6 1172.3Z" fill="#00AB66"/>
</g>
<g>
<path d="M299.2 797.5L326.7 781.6L326.7 813.4Z" fill="#FF00FF"/>
<path d="M300 802.6L327.5 786.7L327.5 818.5Z" fill="#FF00FF"/>
<path d="M300.8 807.1L328.4 791.2L328.4 823Z" fill="#FF00FF"/>
<path d="M301.7 812.1L329.3 796.2L329.3 828Z" fill="#FF00FF"/>
<path d="M302.6 815.6L330.2 799.7L330.2 831.5Z" fill="#FF00FF"/>
<path d="M303.6 819.1L331.1 803.2L331.1 835Z" fill="#FF00FF"/>
<path d="M304.6 822.6L332.2 806.7L332.2 838.5Z" fill="#FF00FF"/>
<path d="M305.7 826.1L333.2 810.2L333.2 842Z" fill="#FF00FF"/>
<path d="M306.8 830.1L334.3 814.2L334.3 846Z" fill="#FF00FF"/>
<path d="M307.9 834.1L335.5 818.2L335.5 850Z" fill="#FF00FF"/>
<path d="M309.2 838.6L336.7 822.7L336.7 854.5Z" fill="#FF00FF"/>
<path d="M310.4 851.1L338 835.2L338 867Z" fill="#FF00FF"/>
<path d="M311.8 842.1L339.3 826.2L339.3 858Z" fill="#FF00FF"/>
<path d="M313.2 844.1L340.7 828.2L340.7 860Z" fill="#FF00FF"/>
<path d="M314.6 845.1L342.2 829.2L342.2 861Z" fill="#FF00FF"/>
<path d="M316.2 846.3L343.7 830.4L343.7 862.2Z" fill="#FF00FF"/>
<path d="M317.8 855.1L345.3 839.2L345.3 871Z" fill="#FF00FF"/>
<path d="M319.4 864.1L347 848.2L347 880Z" fill="#FF00FF"/>
<path d="M321.2 873.1L348.7 857.2L348.7 889Z" fill="#FF00FF"/>
<path d="M323 879.1L350.6 863.2L350.6 895Z" fill="#FF00FF"/>
<path d="M325 884.1L352.5 868.2L352.5 900Z" fill="#FF00FF"/>
<path d="M327 891.1L354.5 875.2L354.5 907Z" fill="#FF00FF"/>
<path d="M329.1 877.6L356.6 861.7L356.6 893.5Z" fill="#FF00FF"/>
<path d="M331.3 897.1L358.9 881.2L358.9 913Z" fill="#FF00FF"/>
<path d="M333.6 890.1L361.2 874.2L361.2 906Z" fill="#FF00FF"/>
<path d="M336.1 892.1L363.6 876.2L363.6 908Z" fill="#FF00FF"/>
<path d="M338.6 900.1L366.1 884.2L366.1 916Z" fill="#FF00FF"/>
<path d="M341.3 899.1L368.8 883.2L368.8 915Z" fill="#FF00FF"/>
<path d="M344 907.1L371.6 891.2L371.6 923Z" fill="#FF00FF"/>
<path d="M347 908.1L374.5 892.2L374.5 924Z" fill="#FF00FF"/>
<path d="M350 917.1L377.6 901.2L377.6 933Z" fill="#FF00FF"/>
<path d="M353.2 918.1L380.8 902.2L380.8 934Z" fill="#FF00FF"/>
<path d="M356.6 924.1L384.1 908.2L384.1 940Z" fill="#FF00FF"/>
<path d="M360.1 930.1L387.6 914.2L387.6 946Z" fill="#FF00FF"/>
<path d="M363.7 936.1L391.3 920.2L391.3 952Z" fill="#FF00FF"/>
<path d="M367.6 940.6L395.1 924.7L395.1 956.5Z" fill="#FF00FF"/>
<path d="M371.6 945.6L399.2 929.7L399.2 961.5Z" fill="#FF00FF"/>
<path d="M375.8 950.1L403.4 934.2L403.4 966Z" fill="#FF00FF"/>
<path d="M380.3 954.1L407.8 938.2L407.8 970Z" fill="#FF00FF"/>
<path d="M384.9 955.1L412.4 939.2L412.4 971Z" fill="#FF00FF"/>
<path d="M389.7 955.4L417.3 939.5L417.3 971.3Z" fill="#FF00FF"/>
<path d="M394.8 956.9L422.3 941L422.3 972.8Z" fill="#FF00FF"/>
<path d="M400.1 958.4L427.6 942.5L427.6 974.3Z" fill="#FF00FF"/>
<path d="M405.7 962.1L433.2 946.2L433.2 978Z" fill="#FF00FF"/>
<path d="M411.5 957.5L439 941.6L439 973.4Z" fill="#FF00FF"/>
<path d="M417.6 958.1L445.1 942.2L445.1 974Z" fill="#FF00FF"/>
<path d="M424 962.1L451.5 946.2L451.5 978Z" fill="#FF00FF"/>
<path d="M430.6 967.1L458.2 951.2L458.2 983Z" fill="#FF00FF"/>
<path d="M437.6 970.7L465.2 954.8L465.2 986.6Z" fill="#FF00FF"/>
<path d="M445 976.1L472.5 960.2L472.5 992Z" fill="#FF00FF"/>
<path d="M452.6 981.3L480.2 965.4L480.2 997.2Z" fill="#FF00FF"/>
<path d="M460.7 984.5L488.2 968.6L488.2 1000.4Z" fill="#FF00FF"/>
<path d="M469.1 987L496.6 971.1L496.6 1002.9Z" fill="#FF00FF"/>
<path d="M477.9 991.4L505.4 975.5L505.4 1007.2Z" fill="#FF00FF"/>
<path d="M487.1 993.9L514.7 978L514.7 1009.8Z" fill="#FF00FF"/>
<path d="M496.8 1000.1L524.3 984.2L524.3 1016Z" fill="#FF00FF"/>
<path d="M506.9 1001.4L534.4 985.5L534.4 1017.3Z" fill="#FF00FF"/>
<path d="M517.5 1002.6L545 986.7L545 1018.5Z" fill="#FF00FF"/>
<path d="M528.6 1005.8L556.1 989.9L556.1 1021.7Z" fill="#FF00FF"/>
<path d="M540.2 1012.6L567.7 996.7L567.7 1028.5Z" fill="#FF00FF"/>
<path d="M552.4 1012.1L579.9 996.2L579.9 1028Z" fill="#FF00FF"/>
<path d="M565.1 1014.4L592.6 998.5L592.6 1030.3Z" fill="#FF00FF"/>
<path d="M578.4 1018.1L606 1002.2L606 1034Z" fill="#FF00FF"/>
<path d="M592.4 1020.3L619.9 1004.4L619.9 1036.2Z" fill="#FF00FF"/>
<path d="M607 1027.9L634.6 1012L634.6 1043.8Z" fill="#FF00FF"/>
<path d="M622.3 1024.2L649.9 1008.3L649.9 1040.1Z" fill="#FF00FF"/>
<path d="M638.4 1027.5L665.9 1011.6L665.9 1043.4Z" fill="#FF00FF"/>
<path d="M655.2 1029.4L682.7 1013.5L682.7 1045.3Z" fill="#FF00FF"/>
<path d="M672.7 1037.5L700.3 1021.6L700.3 1053.4Z" fill="#FF00FF"/>
<path d="M691.1 1038.2L718.7 1022.3L718.7 1054.1Z" fill="#FF00FF"/>
<path d="M710.4 1041.3L738 1025.4L738 1057.2Z" fill="#FF00FF"/>
<path d="M730.6 1047.3L758.1 1031.4L758.1 1063.2Z" fill="#FF00FF"/>
<path d="M751.7 1050.1L779.3 1034.2L779.3 1066Z" fill="#FF00FF"/>
<path d="M773.9 1053.2L801.4 1037.3L801.4 1069.1Z" fill="#FF00FF"/>
<path d="M797 1055.5L824.6 1039.6L824.6 1071.4Z" fill="#FF00FF"/>
<path d="M821.3 1055.5L848.8 1039.6L848.8 1071.4Z" fill="#FF00FF"/>
<path d="M846.7 1068.5L874.3 1052.6L874.3 1084.4Z" fill="#FF00FF"/>
<path d="M873.3 1067.7L900.9 1051.8L900.9 1083.6Z" fill="#FF00FF"/>
<path d="M901.2 1070.5L928.7 1054.6L928.7 1086.4Z" fill="#FF00FF"/>
<path d="M930.4 1075.5L957.9 1059.6L957.9 1091.4Z" fill="#FF00FF"/>
<path d="M960.9 1079.2L988.5 1063.3L988.5 1095.1Z" fill="#FF00FF"/>
<path d="M992.9 1081.2L1020.4 1065.3L1020.4 1097.1Z" fill="#FF00FF"/>
<path d="M1026.4 1085.5L1053.9 1069.6L1053.9 1101.4Z" fill="#FF00FF"/>
<path d="M1061.5 1089.2L1089 1073.3L1089 1105.1Z" fill="#FF00FF"/>
<path d="M1098.2 1090.5L1125.7 1074.6L1125.7 1106.4Z" fill="#FF00FF"/>
<path d="M1136.7 1093L1164.2 1077.1L1164.2 1108.9Z" fill="#FF00FF"/>
<path d="M1176.9 1095.5L1204.5 1079.6L1204.5 1111.4Z" fill="#FF00FF"/>
<path d="M1219.1 1101.2L1246.6 1085.3L1246.6 1117.1Z" fill="#FF00FF"/>
<path d="M1263.3 1102L1290.8 1086.1L1290.8 1117.9Z" fill="#FF00FF"/>
<path d="M1309.5 1104.3L1337 1088.4L1337 1120.2Z" fill="#FF00FF"/>
<path d="M1357.9 1107L1385.5 1091.1L1385.5 1122.9Z" fill="#FF00FF"/>
<path d="M1408.6 1106.7L1436.2 1090.8L1436.2 1122.6Z" fill="#FF00FF"/>
<path d="M1461.7 1115.7L1489.3 1099.8L1489.3 1131.6Z" fill="#FF00FF"/>
<path d="M1517.3 1118L1544.8 1102.1L1544.8 1133.9Z" fill="#FF00FF"/>
<path d="M1575.5 1119.7L1603.1 1103.8L1603.1 1135.6Z" fill="#FF00FF"/>
<path d="M1636.5 1120.7L1664 1104.8L1664 1136.6Z" fill="#FF00FF"/>
<path d="M1700.3 1124.6L1727.8 1108.7L1727.8 1140.5Z" fill="#FF00FF"/>
<path d="M1767.1 1126.8L1794.7 1110.9L1794.7 1142.8Z" fill="#FF00FF"/>
<path d="M1837.1 1130.6L1864.7 1114.7L1864.7 1146.5Z" fill="#FF00FF"/>
<path d="M1910.4 1132.4L1937.9 1116.5L1937.9 1148.3Z" fill="#FF00FF"/>
<path d="M1987.1 1133.2L2014.7 1117.3L2014.7 1149.1Z" fill="#FF00FF"/>
</g>
<g>
<path d="M335.9 654.1L308.4 638.2L308.4 670Z" fill="#00FFFF"/>
<path d="M336.7 659.2L309.2 643.3L309.2 675.1Z" fill="#00FFFF"/>
<path d="M337.6 663.7L310 647.8L310 679.6Z" fill="#00FFFF"/>
<path d="M338.4 668.7L310.9 652.8L310.9 684.6Z" fill="#00FFFF"/>
<path d="M339.4 672.2L311.8 656.3L311.8 688.1Z" fill="#00FFFF"/>
<path d="M340.3 675.7L312.8 659.8L312.8 691.6Z" fill="#00FFFF"/>
<path d="M341.3 679.2L313.8 663.3L313.8 695.1Z" fill="#00FFFF"/>
<path d="M342.4 682.7L314.9 666.8L314.9 698.6Z" fill="#00FFFF"/>
<path d="M343.5 686.7L316 670.8L316 702.6Z" fill="#00FFFF"/>
<path d="M344.7 690.7L317.1 674.8L317.1 706.6Z" fill="#00FFFF"/>
<path d="M345.9 695.2L318.3 679.3L318.3 711.1Z" fill="#00FFFF"/>
<path d="M347.2 707.7L319.6 691.8L319.6 723.6Z" fill="#00FFFF"/>
<path d="M348.5 698.7L320.9 682.8L320.9 714.6Z" fill="#00FFFF"/>
<path d="M349.9 700.7L322.3 684.8L322.3 716.6Z" fill="#00FFFF"/>
<path d="M351.3 701.7L323.8 685.8L323.8 717.6Z" fill="#00FFFF"/>
<path d="M352.9 702.9L325.3 687L325.3 718.8Z" fill="#00FFFF"/>
<path d="M354.5 711.7L326.9 695.8L326.9 727.6Z" fill="#00FFFF"/>
<path d="M356.2 720.7L328.6 704.8L328.6 736.6Z" fill="#00FFFF"/>
<path d="M357.9 729.7L330.4 713.8L330.4 745.6Z" fill="#00FFFF"/>
<path d="M359.8 735.7L332.2 719.8L332.2 751.6Z" fill="#00FFFF"/>
<path d="M361.7 740.7L334.1 724.8L334.1 756.6Z" fill="#00FFFF"/>
<path d="M363.7 747.7L336.2 731.8L336.2 763.6Z" fill="#00FFFF"/>
<path d="M365.8 734.2L338.3 718.3L338.3 750.1Z" fill="#00FFFF"/>
<path d="M368 753.7L340.5 737.8L340.5 769.6Z" fill="#00FFFF"/>
<path d="M370.3 746.7L342.8 730.8L342.8 762.6Z" fill="#00FFFF"/>
<path d="M372.8 748.7L345.2 732.8L345.2 764.6Z" fill="#00FFFF"/>
<path d="M375.3 756.7L347.8 740.8L347.8 772.6Z" fill="#00FFFF"/>
<path d="M378 755.7L350.4 739.8L350.4 771.6Z" fill="#00FFFF"/>
<path d="M380.8 763.7L353.2 747.8L353.2 779.6Z" fill="#00FFFF"/>
<path d="M383.7 764.7L356.1 748.8L356.1 780.6Z" fill="#00FFFF"/>
<path d="M386.7 773.7L359.2 757.8L359.2 789.6Z" fill="#00FFFF"/>
<path d="M389.9 774.7L362.4 758.8L362.4 790.6Z" fill="#00FFFF"/>
<path d="M393.3 780.7L365.7 764.8L365.7 796.6Z" fill="#00FFFF"/>
<path d="M396.8 786.7L369.3 770.8L369.3 802.6Z" fill="#00FFFF"/>
<path d="M400.5 792.7L372.9 776.8L372.9 808.6Z" fill="#00FFFF"/>
<path d="M404.3 797.2L376.8 781.3L376.8 813.1Z" fill="#00FFFF"/>
<path d="M408.3 802.2L380.8 786.3L380.8 818.1Z" fill="#00FFFF"/>
<path d="M412.6 806.7L385 790.8L385 822.6Z" fill="#00FFFF"/>
<path d="M417 810.7L389.4 794.8L389.4 826.6Z" fill="#00FFFF"/>
<path d="M421.6 811.7L394.1 795.8L394.1 827.6Z" fill="#00FFFF"/>
<path d="M426.4 812L398.9 796.1L398.9 827.9Z" fill="#00FFFF"/>
<path d="M431.5 813.5L404 797.6L404 829.4Z" fill="#00FFFF"/>
<path d="M436.8 815L409.3 799.1L409.3 830.9Z" fill="#00FFFF"/>
<path d="M442.4 818.7L414.8 802.8L414.8 834.6Z" fill="#00FFFF"/>
<path d="M448.2 814.1L420.7 798.2L420.7 830Z" fill="#00FFFF"/>
<path d="M454.3 814.7L426.8 798.8L426.8 830.6Z" fill="#00FFFF"/>
<path d="M460.7 818.7L433.1 802.8L433.1 834.6Z" fill="#00FFFF"/>
<path d="M467.4 823.7L439.8 807.8L439.8 839.6Z" fill="#00FFFF"/>
<path d="M474.4 827.3L446.8 811.4L446.8 843.2Z" fill="#00FFFF"/>
<path d="M481.7 832.7L454.1 816.8L454.1 848.6Z" fill="#00FFFF"/>
<path d="M489.4 837.9L461.8 822L461.8 853.8Z" fill="#00FFFF"/>
<path d="M497.4 841.1L469.9 825.2L469.9 857Z" fill="#00FFFF"/>
<path d="M505.8 843.6L478.3 827.7L478.3 859.5Z" fill="#00FFFF"/>
<path d="M514.6 848L487.1 832.1L487.1 863.9Z" fill="#00FFFF"/>
<path d="M523.8 850.5L496.3 834.6L496.3 866.4Z" fill="#00FFFF"/>
<path d="M533.5 856.7L506 840.8L506 872.6Z" fill="#00FFFF"/>
<path d="M543.6 858L516.1 842.1L516.1 873.9Z" fill="#00FFFF"/>
<path d="M554.2 859.2L526.7 843.3L526.7 875.1Z" fill="#00FFFF"/>
<path d="M565.3 862.4L537.8 846.5L537.8 878.3Z" fill="#00FFFF"/>
<path d="M576.9 869.2L549.4 853.3L549.4 885.1Z" fill="#00FFFF"/>
<path d="M589.1 868.7L561.5 852.8L561.5 884.6Z" fill="#00FFFF"/>
<path d="M601.8 871L574.3 855.1L574.3 886.9Z" fill="#00FFFF"/>
<path d="M615.2 874.7L587.6 858.8L587.6 890.6Z" fill="#00FFFF"/>
<path d="M629.1 876.9L601.6 861L601.6 892.8Z" fill="#00FFFF"/>
<path d="M643.7 884.5L616.2 868.6L616.2 900.4Z" fill="#00FFFF"/>
<path d="M659.1 880.8L631.5 864.9L631.5 896.7Z" fill="#00FFFF"/>
<path d="M675.1 884.1L647.5 868.2L647.5 900Z" fill="#00FFFF"/>
<path d="M691.9 886L664.3 870.1L664.3 901.9Z" fill="#00FFFF"/>
<path d="M709.5 894.1L681.9 878.2L681.9 910Z" fill="#00FFFF"/>
<path d="M727.9 894.8L700.3 878.9L700.3 910.7Z" fill="#00FFFF"/>
<path d="M747.1 897.9L719.6 882L719.6 913.8Z" fill="#00FFFF"/>
<path d="M767.3 903.9L739.8 888L739.8 919.8Z" fill="#00FFFF"/>
<path d="M788.5 906.7L760.9 890.8L760.9 922.6Z" fill="#00FFFF"/>
<path d="M810.6 909.8L783 893.9L783 925.7Z" fill="#00FFFF"/>
<path d="M833.8 912.1L806.2 896.2L806.2 928Z" fill="#00FFFF"/>
<path d="M858 912.1L830.5 896.2L830.5 928Z" fill="#00FFFF"/>
<path d="M883.4 925.1L855.9 909.2L855.9 941Z" fill="#00FFFF"/>
<path d="M910 924.3L882.5 908.4L882.5 940.2Z" fill="#00FFFF"/>
<path d="M937.9 927.1L910.4 911.2L910.4 943Z" fill="#00FFFF"/>
<path d="M967.1 932.1L939.5 916.2L939.5 948Z" fill="#00FFFF"/>
<path d="M997.6 935.8L970.1 919.9L970.1 951.7Z" fill="#00FFFF"/>
<path d="M1029.6 937.8L1002.1 921.9L1002.1 953.7Z" fill="#00FFFF"/>
<path d="M1063.1 942.1L1035.6 926.2L1035.6 958Z" fill="#00FFFF"/>
<path d="M1098.2 945.8L1070.7 929.9L1070.7 961.7Z" fill="#00FFFF"/>
<path d="M1134.9 947.1L1107.4 931.2L1107.4 963Z" fill="#00FFFF"/>
<path d="M1173.4 949.6L1145.8 933.7L1145.8 965.5Z" fill="#00FFFF"/>
<path d="M1213.7 952.1L1186.1 936.2L1186.1 968Z" fill="#00FFFF"/>
<path d="M1255.8 957.8L1228.3 941.9L1228.3 973.7Z" fill="#00FFFF"/>
<path d="M1300 958.6L1272.4 942.7L1272.4 974.5Z" fill="#00FFFF"/>
<path d="M1346.2 960.9L1318.7 945L1318.7 976.8Z" fill="#00FFFF"/>
<path d="M1394.6 963.6L1367.1 947.7L1367.1 979.5Z" fill="#00FFFF"/>
<path d="M1445.3 963.3L1417.8 947.4L1417.8 979.2Z" fill="#00FFFF"/>
<path d="M1498.4 972.3L1470.9 956.4L1470.9 988.2Z" fill="#00FFFF"/>
<path d="M1554 974.6L1526.5 958.7L1526.5 990.5Z" fill="#00FFFF"/>
<path d="M1612.2 976.3L1584.7 960.4L1584.7 992.2Z" fill="#00FFFF"/>
<path d="M1673.2 977.3L1645.6 961.4L1645.6 993.2Z" fill="#00FFFF"/>
<path d="M1737 981.2L1709.5 965.3L1709.5 997.1Z" fill="#00FFFF"/>
<path d="M1803.9 983.5L1776.3 967.6L1776.3 999.4Z" fill="#00FFFF"/>
<path d="M1873.8 987.2L1846.3 971.3L1846.3 1003.1Z" fill="#00FFFF"/>
<path d="M1947.1 989L1919.6 973.1L1919.6 1004.9Z" fill="#00FFFF"/>
<path d="M2023.9 989.8L1996.3 973.9L1996.3 1005.7Z" fill="#00FFFF"/>
</g>
<g>
<rect x="306.9" y="529.3" width="21.2" height="21.2" fill="#fff" stroke="#9400FF" stroke-width="2.4"/><rect x="305.8" y="528.1" width="23.6" height="12.6" fill="#9400FF"/>
<rect x="307.8" y="534.4" width="21.2" height="21.2" fill="#fff" stroke="#9400FF" stroke-width="2.4"/><rect x="306.6" y="533.2" width="23.6" height="12.6" fill="#9400FF"/>
<rect x="308.6" y="538.9" width="21.2" height="21.2" fill="#fff" stroke="#9400FF" stroke-width="2.4"/><rect x="307.4" y="537.7" width="23.6" height="12.6" fill="#9400FF"/>
<rect x="309.5" y="543.9" width="21.2" height="21.2" fill="#fff" stroke="#9400FF" stroke-width="2.4"/><rect x="308.3" y="542.7" width="23.6" height="12.6" fill="#9400FF"/>
<rect x="310.4" y="547.4" width="21.2" height="21.2" fill="#fff" stroke="#9400FF" stroke-width="2.4"/><rect x="309.2" y="546.2" width="23.6" height="12.6" fill="#9400FF"/>
<rect x="311.4" y="550.9" width="21.2" height="21.2" fill="#fff" stroke="#9400FF" stroke-width="2.4"/><rect x="310.2" y="549.7" width="23.6" height="12.6" fill="#9400FF"/>
<rect x="312.4" y="554.4" width="21.2" height="21.2" fill="#fff" stroke="#9400FF" stroke-width="2.4"/><rect x="311.2" y="553.2" width="23.6" height="12.6" fill="#9400FF"/>
<rect x="313.4" y="557.9" width="21.2" height="21.2" fill="#fff" stroke="#9400FF" stroke-width="2.4"/><rect x="312.2" y="556.7" width="23.6" height="12.6" fill="#9400FF"/>
<rect x="314.5" y="561.9" width="21.2" height="21.2" fill="#fff" stroke="#9400FF" stroke-width="2.4"/><rect x="313.3" y="560.7" width="23.6" height="12.6" fill="#9400FF"/>
<rect x="315.7" y="565.9" width="21.2" height="21.2" fill="#fff" stroke="#9400FF" stroke-width="2.4"/><rect x="314.5" y="564.7" width="23.6" height="12.6" fill="#9400FF"/>
<rect x="316.9" y="570.4" width="21.2" height="21.2" fill="#fff" stroke="#9400FF" stroke-width="2.4"/><rect x="315.7" y="569.2" width="23.6" height="12.6" fill="#9400FF"/>
<rect x="318.2" y="582.9" width="21.2" height="21.2" fill="#fff" stroke="#9400FF" stroke-width="2.4"/><rect x="317" y="581.7" width="23.6" height="12.6" fill="#9400FF"/>
<rect x="319.5" y="573.9" width="21.2" height="21.2" fill="#fff" stroke="#9400FF" stroke-width="2.4"/><rect x="318.3" y="572.7" width="23.6" height="12.6" fill="#9400FF"/>
<rect x="320.9" y="575.9" width="21.2" height="21.2" fill="#fff" stroke="#9400FF" stroke-width="2.4"/><rect x="319.7" y="574.7" width="23.6" height="12.6" fill="#9400FF"/>
<rect x="322.4" y="576.9" width="21.2" height="21.2" fill="#fff" stroke="#9400FF" stroke-width="2.4"/><rect x="321.2" y="575.7" width="23.6" height="12.6" fill="#9400FF"/>
<rect x="323.9" y="578.1" width="21.2" height="21.2" fill="#fff" stroke="#9400FF" stroke-width="2.4"/><rect x="322.7" y="576.9" width="23.6" height="12.6" fill="#9400FF"/>
<rect x="325.5" y="586.9" width="21.2" height="21.2" fill="#fff" stroke="#9400FF" stroke-width="2.4"/><rect x="324.3" y="585.7" width="23.6" height="12.6" fill="#9400FF"/>
<rect x="327.2" y="595.9" width="21.2" height="21.2" fill="#fff" stroke="#9400FF" stroke-width="2.4"/><rect x="326" y="594.7" width="23.6" height="12.6" fill="#9400FF"/>
<rect x="329" y="604.9" width="21.2" height="21.2" fill="#fff" stroke="#9400FF" stroke-width="2.4"/><rect x="327.8" y="603.7" width="23.6" height="12.6" fill="#9400FF"/>
<rect x="330.8" y="610.9" width="21.2" height="21.2" fill="#fff" stroke="#9400FF" stroke-width="2.4"/><rect x="329.6" y="609.7" width="23.6" height="12.6" fill="#9400FF"/>
<rect x="332.7" y="615.9" width="21.2" height="21.2" fill="#fff" stroke="#9400FF" stroke-width="2.4"/><rect x="331.5" y="614.7" width="23.6" height="12.6" fill="#9400FF"/>
<rect x="334.7" y="622.9" width="21.2" height="21.2" fill="#fff" stroke="#9400FF" stroke-width="2.4"/><rect x="333.5" y="621.7" width="23.6" height="12.6" fill="#9400FF"/>
<rect x="336.9" y="609.4" width="21.2" height="21.2" fill="#fff" stroke="#9400FF" stroke-width="2.4"/><rect x="335.7" y="608.2" width="23.6" height="12.6" fill="#9400FF"/>
<rect x="339.1" y="628.9" width="21.2" height="21.2" fill="#fff" stroke="#9400FF" stroke-width="2.4"/><rect x="337.9" y="627.7" width="23.6" height="12.6" fill="#9400FF"/>
<rect x="341.4" y="621.9" width="21.2" height="21.2" fill="#fff" stroke="#9400FF" stroke-width="2.4"/><rect x="340.2" y="620.7" width="23.6" height="12.6" fill="#9400FF"/>
<rect x="343.8" y="623.9" width="21.2" height="21.2" fill="#fff" stroke="#9400FF" stroke-width="2.4"/><rect x="342.6" y="622.7" width="23.6" height="12.6" fill="#9400FF"/>
<rect x="346.4" y="631.9" width="21.2" height="21.2" fill="#fff" stroke="#9400FF" stroke-width="2.4"/><rect x="345.2" y="630.7" width="23.6" height="12.6" fill="#9400FF"/>
<rect x="349" y="630.9" width="21.2" height="21.2" fill="#fff" stroke="#9400FF" stroke-width="2.4"/><rect x="347.8" y="629.7" width="23.6" height="12.6" fill="#9400FF"/>
<rect x="351.8" y="638.9" width="21.2" height="21.2" fill="#fff" stroke="#9400FF" stroke-width="2.4"/><rect x="350.6" y="637.7" width="23.6" height="12.6" fill="#9400FF"/>
<rect x="354.7" y="639.9" width="21.2" height="21.2" fill="#fff" stroke="#9400FF" stroke-width="2.4"/><rect x="353.5" y="638.7" width="23.6" height="12.6" fill="#9400FF"/>
<rect x="357.8" y="648.9" width="21.2" height="21.2" fill="#fff" stroke="#9400FF" stroke-width="2.4"/><rect x="356.6" y="647.7" width="23.6" height="12.6" fill="#9400FF"/>
<rect x="361" y="649.9" width="21.2" height="21.2" fill="#fff" stroke="#9400FF" stroke-width="2.4"/><rect x="359.8" y="648.7" width="23.6" height="12.6" fill="#9400FF"/>
<rect x="364.3" y="655.9" width="21.2" height="21.2" fill="#fff" stroke="#9400FF" stroke-width="2.4"/><rect x="363.1" y="654.7" width="23.6" height="12.6" fill="#9400FF"/>
<rect x="367.8" y="661.9" width="21.2" height="21.2" fill="#fff" stroke="#9400FF" stroke-width="2.4"/><rect x="366.6" y="660.7" width="23.6" height="12.6" fill="#9400FF"/>
<rect x="371.5" y="667.9" width="21.2" height="21.2" fill="#fff" stroke="#9400FF" stroke-width="2.4"/><rect x="370.3" y="666.7" width="23.6" height="12.6" fill="#9400FF"/>
<rect x="375.4" y="672.4" width="21.2" height="21.2" fill="#fff" stroke="#9400FF" stroke-width="2.4"/><rect x="374.2" y="671.2" width="23.6" height="12.6" fill="#9400FF"/>
<rect x="379.4" y="677.4" width="21.2" height="21.2" fill="#fff" stroke="#9400FF" stroke-width="2.4"/><rect x="378.2" y="676.2" width="23.6" height="12.6" fill="#9400FF"/>
<rect x="383.6" y="681.9" width="21.2" height="21.2" fill="#fff" stroke="#9400FF" stroke-width="2.4"/><rect x="382.4" y="680.7" width="23.6" height="12.6" fill="#9400FF"/>
<rect x="388" y="685.9" width="21.2" height="21.2" fill="#fff" stroke="#9400FF" stroke-width="2.4"/><rect x="386.8" y="684.7" width="23.6" height="12.6" fill="#9400FF"/>
<rect x="392.6" y="686.9" width="21.2" height="21.2" fill="#fff" stroke="#9400FF" stroke-width="2.4"/><rect x="391.4" y="685.7" width="23.6" height="12.6" fill="#9400FF"/>
<rect x="397.5" y="687.2" width="21.2" height="21.2" fill="#fff" stroke="#9400FF" stroke-width="2.4"/><rect x="396.3" y="686" width="23.6" height="12.6" fill="#9400FF"/>
<rect x="402.5" y="688.7" width="21.2" height="21.2" fill="#fff" stroke="#9400FF" stroke-width="2.4"/><rect x="401.3" y="687.5" width="23.6" height="12.6" fill="#9400FF"/>
<rect x="407.9" y="690.2" width="21.2" height="21.2" fill="#fff" stroke="#9400FF" stroke-width="2.4"/><rect x="406.7" y="689" width="23.6" height="12.6" fill="#9400FF"/>
<rect x="413.4" y="693.9" width="21.2" height="21.2" fill="#fff" stroke="#9400FF" stroke-width="2.4"/><rect x="412.2" y="692.7" width="23.6" height="12.6" fill="#9400FF"/>
<rect x="419.2" y="689.3" width="21.2" height="21.2" fill="#fff" stroke="#9400FF" stroke-width="2.4"/><rect x="418" y="688.1" width="23.6" height="12.6" fill="#9400FF"/>
<rect x="425.3" y="689.9" width="21.2" height="21.2" fill="#fff" stroke="#9400FF" stroke-width="2.4"/><rect x="424.1" y="688.7" width="23.6" height="12.6" fill="#9400FF"/>
<rect x="431.7" y="693.9" width="21.2" height="21.2" fill="#fff" stroke="#9400FF" stroke-width="2.4"/><rect x="430.5" y="692.7" width="23.6" height="12.6" fill="#9400FF"/>
<rect x="438.4" y="698.9" width="21.2" height="21.2" fill="#fff" stroke="#9400FF" stroke-width="2.4"/><rect x="437.2" y="697.7" width="23.6" height="12.6" fill="#9400FF"/>
<rect x="445.4" y="702.5" width="21.2" height="21.2" fill="#fff" stroke="#9400FF" stroke-width="2.4"/><rect x="444.2" y="701.3" width="23.6" height="12.6" fill="#9400FF"/>
<rect x="452.7" y="707.9" width="21.2" height="21.2" fill="#fff" stroke="#9400FF" stroke-width="2.4"/><rect x="451.5" y="706.7" width="23.6" height="12.6" fill="#9400FF"/>
<rect x="460.4" y="713.1" width="21.2" height="21.2" fill="#fff" stroke="#9400FF" stroke-width="2.4"/><rect x="459.2" y="711.9" width="23.6" height="12.6" fill="#9400FF"/>
<rect x="468.4" y="716.3" width="21.2" height="21.2" fill="#fff" stroke="#9400FF" stroke-width="2.4"/><rect x="467.2" y="715.1" width="23.6" height="12.6" fill="#9400FF"/>
<rect x="476.8" y="718.8" width="21.2" height="21.2" fill="#fff" stroke="#9400FF" stroke-width="2.4"/><rect x="475.6" y="717.6" width="23.6" height="12.6" fill="#9400FF"/>
<rect x="485.7" y="723.1" width="21.2" height="21.2" fill="#fff" stroke="#9400FF" stroke-width="2.4"/><rect x="484.5" y="721.9" width="23.6" height="12.6" fill="#9400FF"/>
<rect x="494.9" y="725.7" width="21.2" height="21.2" fill="#fff" stroke="#9400FF" stroke-width="2.4"/><rect x="493.7" y="724.5" width="23.6" height="12.6" fill="#9400FF"/>
<rect x="504.5" y="731.9" width="21.2" height="21.2" fill="#fff" stroke="#9400FF" stroke-width="2.4"/><rect x="503.3" y="730.7" width="23.6" height="12.6" fill="#9400FF"/>
<rect x="514.7" y="733.2" width="21.2" height="21.2" fill="#fff" stroke="#9400FF" stroke-width="2.4"/><rect x="513.5" y="732" width="23.6" height="12.6" fill="#9400FF"/>
<rect x="525.3" y="734.4" width="21.2" height="21.2" fill="#fff" stroke="#9400FF" stroke-width="2.4"/><rect x="524.1" y="733.2" width="23.6" height="12.6" fill="#9400FF"/>
<rect x="536.3" y="737.6" width="21.2" height="21.2" fill="#fff" stroke="#9400FF" stroke-width="2.4"/><rect x="535.1" y="736.4" width="23.6" height="12.6" fill="#9400FF"/>
<rect x="548" y="744.4" width="21.2" height="21.2" fill="#fff" stroke="#9400FF" stroke-width="2.4"/><rect x="546.8" y="743.2" width="23.6" height="12.6" fill="#9400FF"/>
<rect x="560.1" y="743.9" width="21.2" height="21.2" fill="#fff" stroke="#9400FF" stroke-width="2.4"/><rect x="558.9" y="742.7" width="23.6" height="12.6" fill="#9400FF"/>
<rect x="572.9" y="746.2" width="21.2" height="21.2" fill="#fff" stroke="#9400FF" stroke-width="2.4"/><rect x="571.7" y="745" width="23.6" height="12.6" fill="#9400FF"/>
<rect x="586.2" y="749.9" width="21.2" height="21.2" fill="#fff" stroke="#9400FF" stroke-width="2.4"/><rect x="585" y="748.7" width="23.6" height="12.6" fill="#9400FF"/>
<rect x="600.2" y="752.1" width="21.2" height="21.2" fill="#fff" stroke="#9400FF" stroke-width="2.4"/><rect x="599" y="750.9" width="23.6" height="12.6" fill="#9400FF"/>
<rect x="614.8" y="759.7" width="21.2" height="21.2" fill="#fff" stroke="#9400FF" stroke-width="2.4"/><rect x="613.6" y="758.5" width="23.6" height="12.6" fill="#9400FF"/>
<rect x="630.1" y="756" width="21.2" height="21.2" fill="#fff" stroke="#9400FF" stroke-width="2.4"/><rect x="628.9" y="754.8" width="23.6" height="12.6" fill="#9400FF"/>
<rect x="646.1" y="759.3" width="21.2" height="21.2" fill="#fff" stroke="#9400FF" stroke-width="2.4"/><rect x="644.9" y="758.1" width="23.6" height="12.6" fill="#9400FF"/>
<rect x="662.9" y="761.2" width="21.2" height="21.2" fill="#fff" stroke="#9400FF" stroke-width="2.4"/><rect x="661.7" y="760" width="23.6" height="12.6" fill="#9400FF"/>
<rect x="680.5" y="769.3" width="21.2" height="21.2" fill="#fff" stroke="#9400FF" stroke-width="2.4"/><rect x="679.3" y="768.1" width="23.6" height="12.6" fill="#9400FF"/>
<rect x="698.9" y="770" width="21.2" height="21.2" fill="#fff" stroke="#9400FF" stroke-width="2.4"/><rect x="697.7" y="768.8" width="23.6" height="12.6" fill="#9400FF"/>
<rect x="718.2" y="773.1" width="21.2" height="21.2" fill="#fff" stroke="#9400FF" stroke-width="2.4"/><rect x="717" y="771.9" width="23.6" height="12.6" fill="#9400FF"/>
<rect x="738.4" y="779.1" width="21.2" height="21.2" fill="#fff" stroke="#9400FF" stroke-width="2.4"/><rect x="737.2" y="777.9" width="23.6" height="12.6" fill="#9400FF"/>
<rect x="759.5" y="781.9" width="21.2" height="21.2" fill="#fff" stroke="#9400FF" stroke-width="2.4"/><rect x="758.3" y="780.7" width="23.6" height="12.6" fill="#9400FF"/>
<rect x="781.6" y="785" width="21.2" height="21.2" fill="#fff" stroke="#9400FF" stroke-width="2.4"/><rect x="780.4" y="783.8" width="23.6" height="12.6" fill="#9400FF"/>
<rect x="804.8" y="787.3" width="21.2" height="21.2" fill="#fff" stroke="#9400FF" stroke-width="2.4"/><rect x="803.6" y="786.1" width="23.6" height="12.6" fill="#9400FF"/>
<rect x="829.1" y="787.3" width="21.2" height="21.2" fill="#fff" stroke="#9400FF" stroke-width="2.4"/><rect x="827.9" y="786.1" width="23.6" height="12.6" fill="#9400FF"/>
<rect x="854.5" y="800.3" width="21.2" height="21.2" fill="#fff" stroke="#9400FF" stroke-width="2.4"/><rect x="853.3" y="799.1" width="23.6" height="12.6" fill="#9400FF"/>
<rect x="881.1" y="799.5" width="21.2" height="21.2" fill="#fff" stroke="#9400FF" stroke-width="2.4"/><rect x="879.9" y="798.3" width="23.6" height="12.6" fill="#9400FF"/>
<rect x="908.9" y="802.3" width="21.2" height="21.2" fill="#fff" stroke="#9400FF" stroke-width="2.4"/><rect x="907.7" y="801.1" width="23.6" height="12.6" fill="#9400FF"/>
<rect x="938.1" y="807.3" width="21.2" height="21.2" fill="#fff" stroke="#9400FF" stroke-width="2.4"/><rect x="936.9" y="806.1" width="23.6" height="12.6" fill="#9400FF"/>
<rect x="968.7" y="811" width="21.2" height="21.2" fill="#fff" stroke="#9400FF" stroke-width="2.4"/><rect x="967.5" y="809.8" width="23.6" height="12.6" fill="#9400FF"/>
<rect x="1000.7" y="813" width="21.2" height="21.2" fill="#fff" stroke="#9400FF" stroke-width="2.4"/><rect x="999.5" y="811.8" width="23.6" height="12.6" fill="#9400FF"/>
<rect x="1034.2" y="817.3" width="21.2" height="21.2" fill="#fff" stroke="#9400FF" stroke-width="2.4"/><rect x="1033" y="816.1" width="23.6" height="12.6" fill="#9400FF"/>
<rect x="1069.2" y="821" width="21.2" height="21.2" fill="#fff" stroke="#9400FF" stroke-width="2.4"/><rect x="1068" y="819.8" width="23.6" height="12.6" fill="#9400FF"/>
<rect x="1106" y="822.3" width="21.2" height="21.2" fill="#fff" stroke="#9400FF" stroke-width="2.4"/><rect x="1104.8" y="821.1" width="23.6" height="12.6" fill="#9400FF"/>
<rect x="1144.4" y="824.8" width="21.2" height="21.2" fill="#fff" stroke="#9400FF" stroke-width="2.4"/><rect x="1143.2" y="823.6" width="23.6" height="12.6" fill="#9400FF"/>
<rect x="1184.7" y="827.3" width="21.2" height="21.2" fill="#fff" stroke="#9400FF" stroke-width="2.4"/><rect x="1183.5" y="826.1" width="23.6" height="12.6" fill="#9400FF"/>
<rect x="1226.9" y="833" width="21.2" height="21.2" fill="#fff" stroke="#9400FF" stroke-width="2.4"/><rect x="1225.7" y="831.8" width="23.6" height="12.6" fill="#9400FF"/>
<rect x="1271" y="833.8" width="21.2" height="21.2" fill="#fff" stroke="#9400FF" stroke-width="2.4"/><rect x="1269.8" y="832.6" width="23.6" height="12.6" fill="#9400FF"/>
<rect x="1317.3" y="836.1" width="21.2" height="21.2" fill="#fff" stroke="#9400FF" stroke-width="2.4"/><rect x="1316.1" y="834.9" width="23.6" height="12.6" fill="#9400FF"/>
<rect x="1365.7" y="838.8" width="21.2" height="21.2" fill="#fff" stroke="#9400FF" stroke-width="2.4"/><rect x="1364.5" y="837.6" width="23.6" height="12.6" fill="#9400FF"/>
<rect x="1416.4" y="838.5" width="21.2" height="21.2" fill="#fff" stroke="#9400FF" stroke-width="2.4"/><rect x="1415.2" y="837.3" width="23.6" height="12.6" fill="#9400FF"/>
<rect x="1469.5" y="847.5" width="21.2" height="21.2" fill="#fff" stroke="#9400FF" stroke-width="2.4"/><rect x="1468.3" y="846.3" width="23.6" height="12.6" fill="#9400FF"/>
<rect x="1525.1" y="849.8" width="21.2" height="21.2" fill="#fff" stroke="#9400FF" stroke-width="2.4"/><rect x="1523.9" y="848.6" width="23.6" height="12.6" fill="#9400FF"/>
<rect x="1583.3" y="851.5" width="21.2" height="21.2" fill="#fff" stroke="#9400FF" stroke-width="2.4"/><rect x="1582.1" y="850.3" width="23.6" height="12.6" fill="#9400FF"/>
<rect x="1644.2" y="852.5" width="21.2" height="21.2" fill="#fff" stroke="#9400FF" stroke-width="2.4"/><rect x="1643" y="851.3" width="23.6" height="12.6" fill="#9400FF"/>
<rect x="1708.1" y="856.4" width="21.2" height="21.2" fill="#fff" stroke="#9400FF" stroke-width="2.4"/><rect x="1706.9" y="855.2" width="23.6" height="12.6" fill="#9400FF"/>
<rect x="1774.9" y="858.6" width="21.2" height="21.2" fill="#fff" stroke="#9400FF" stroke-width="2.4"/><rect x="1773.7" y="857.4" width="23.6" height="12.6" fill="#9400FF"/>
<rect x="1844.9" y="862.4" width="21.2" height="21.2" fill="#fff" stroke="#9400FF" stroke-width="2.4"/><rect x="1843.7" y="861.2" width="23.6" height="12.6" fill="#9400FF"/>
<rect x="1918.2" y="864.2" width="21.2" height="21.2" fill="#fff" stroke="#9400FF" stroke-width="2.4"/><rect x="1917" y="863" width="23.6" height="12.6" fill="#9400FF"/>
<rect x="1994.9" y="865" width="21.2" height="21.2" fill="#fff" stroke="#9400FF" stroke-width="2.4"/><rect x="1993.7" y="863.8" width="23.6" height="12.6" fill="#9400FF"/>
</g>
<g>
<circle cx="317.6" cy="376.4" r="12" fill="#fff" stroke="#FF8000" stroke-width="2.6"/><path d="M304.2 377.4A13.3 13.3 0 0 1 330.9 377.4Z" fill="#FF8000"/>
<circle cx="318.4" cy="381.5" r="12" fill="#fff" stroke="#FF8000" stroke-width="2.6"/><path d="M305.1 382.5A13.3 13.3 0 0 1 331.7 382.5Z" fill="#FF8000"/>
<circle cx="319.2" cy="386" r="12" fill="#fff" stroke="#FF8000" stroke-width="2.6"/><path d="M305.9 387A13.3 13.3 0 0 1 332.5 387Z" fill="#FF8000"/>
<circle cx="320.1" cy="391" r="12" fill="#fff" stroke="#FF8000" stroke-width="2.6"/><path d="M306.8 392A13.3 13.3 0 0 1 333.4 392Z" fill="#FF8000"/>
<circle cx="321" cy="394.5" r="12" fill="#fff" stroke="#FF8000" stroke-width="2.6"/><path d="M307.7 395.5A13.3 13.3 0 0 1 334.3 395.5Z" fill="#FF8000"/>
<circle cx="322" cy="398" r="12" fill="#fff" stroke="#FF8000" stroke-width="2.6"/><path d="M308.7 399A13.3 13.3 0 0 1 335.3 399Z" fill="#FF8000"/>
<circle cx="323" cy="401.5" r="12" fill="#fff" stroke="#FF8000" stroke-width="2.6"/><path d="M309.7 402.5A13.3 13.3 0 0 1 336.3 402.5Z" fill="#FF8000"/>
<circle cx="324" cy="405" r="12" fill="#fff" stroke="#FF8000" stroke-width="2.6"/><path d="M310.7 406A13.3 13.3 0 0 1 337.3 406Z" fill="#FF8000"/>
<circle cx="325.1" cy="409" r="12" fill="#fff" stroke="#FF8000" stroke-width="2.6"/><path d="M311.8 410A13.3 13.3 0 0 1 338.4 410Z" fill="#FF8000"/>
<circle cx="326.3" cy="413" r="12" fill="#fff" stroke="#FF8000" stroke-width="2.6"/><path d="M313 414A13.3 13.3 0 0 1 339.6 414Z" fill="#FF8000"/>
<circle cx="327.5" cy="417.5" r="12" fill="#fff" stroke="#FF8000" stroke-width="2.6"/><path d="M314.2 418.5A13.3 13.3 0 0 1 340.8 418.5Z" fill="#FF8000"/>
<circle cx="328.8" cy="430" r="12" fill="#fff" stroke="#FF8000" stroke-width="2.6"/><path d="M315.5 431A13.3 13.3 0 0 1 342.1 431Z" fill="#FF8000"/>
<circle cx="330.1" cy="421" r="12" fill="#fff" stroke="#FF8000" stroke-width="2.6"/><path d="M316.8 422A13.3 13.3 0 0 1 343.4 422Z" fill="#FF8000"/>
<circle cx="331.5" cy="423" r="12" fill="#fff" stroke="#FF8000" stroke-width="2.6"/><path d="M318.2 424A13.3 13.3 0 0 1 344.8 424Z" fill="#FF8000"/>
<circle cx="333" cy="424" r="12" fill="#fff" stroke="#FF8000" stroke-width="2.6"/><path d="M319.7 425A13.3 13.3 0 0 1 346.3 425Z" fill="#FF8000"/>
<circle cx="334.5" cy="425.2" r="12" fill="#fff" stroke="#FF8000" stroke-width="2.6"/><path d="M321.2 426.2A13.3 13.3 0 0 1 347.8 426.2Z" fill="#FF8000"/>
<circle cx="336.1" cy="434" r="12" fill="#fff" stroke="#FF8000" stroke-width="2.6"/><path d="M322.8 435A13.3 13.3 0 0 1 349.4 435Z" fill="#FF8000"/>
<circle cx="337.8" cy="443" r="12" fill="#fff" stroke="#FF8000" stroke-width="2.6"/><path d="M324.5 444A13.3 13.3 0 0 1 351.1 444Z" fill="#FF8000"/>
<circle cx="339.6" cy="452" r="12" fill="#fff" stroke="#FF8000" stroke-width="2.6"/><path d="M326.3 453A13.3 13.3 0 0 1 352.9 453Z" fill="#FF8000"/>
<circle cx="341.4" cy="458" r="12" fill="#fff" stroke="#FF8000" stroke-width="2.6"/><path d="M328.1 459A13.3 13.3 0 0 1 354.7 459Z" fill="#FF8000"/>
<circle cx="343.3" cy="463" r="12" fill="#fff" stroke="#FF8000" stroke-width="2.6"/><path d="M330 464A13.3 13.3 0 0 1 356.6 464Z" fill="#FF8000"/>
<circle cx="345.3" cy="470" r="12" fill="#fff" stroke="#FF8000" stroke-width="2.6"/><path d="M332 471A13.3 13.3 0 0 1 358.6 471Z" fill="#FF8000"/>
<circle cx="347.5" cy="456.5" r="12" fill="#fff" stroke="#FF8000" stroke-width="2.6"/><path d="M334.2 457.5A13.3 13.3 0 0 1 360.8 457.5Z" fill="#FF8000"/>
<circle cx="349.7" cy="476" r="12" fill="#fff" stroke="#FF8000" stroke-width="2.6"/><path d="M336.4 477A13.3 13.3 0 0 1 363 477Z" fill="#FF8000"/>
<circle cx="352" cy="469" r="12" fill="#fff" stroke="#FF8000" stroke-width="2.6"/><path d="M338.7 470A13.3 13.3 0 0 1 365.3 470Z" fill="#FF8000"/>
<circle cx="354.4" cy="471" r="12" fill="#fff" stroke="#FF8000" stroke-width="2.6"/><path d="M341.1 472A13.3 13.3 0 0 1 367.7 472Z" fill="#FF8000"/>
<circle cx="357" cy="479" r="12" fill="#fff" stroke="#FF8000" stroke-width="2.6"/><path d="M343.7 480A13.3 13.3 0 0 1 370.3 480Z" fill="#FF8000"/>
<circle cx="359.6" cy="478" r="12" fill="#fff" stroke="#FF8000" stroke-width="2.6"/><path d="M346.3 479A13.3 13.3 0 0 1 372.9 479Z" fill="#FF8000"/>
<circle cx="362.4" cy="486" r="12" fill="#fff" stroke="#FF8000" stroke-width="2.6"/><path d="M349.1 487A13.3 13.3 0 0 1 375.7 487Z" fill="#FF8000"/>
<circle cx="365.3" cy="487" r="12" fill="#fff" stroke="#FF8000" stroke-width="2.6"/><path d="M352 488A13.3 13.3 0 0 1 378.6 488Z" fill="#FF8000"/>
<circle cx="368.4" cy="496" r="12" fill="#fff" stroke="#FF8000" stroke-width="2.6"/><path d="M355.1 497A13.3 13.3 0 0 1 381.7 497Z" fill="#FF8000"/>
<circle cx="371.6" cy="497" r="12" fill="#fff" stroke="#FF8000" stroke-width="2.6"/><path d="M358.3 498A13.3 13.3 0 0 1 384.9 498Z" fill="#FF8000"/>
<circle cx="374.9" cy="503" r="12" fill="#fff" stroke="#FF8000" stroke-width="2.6"/><path d="M361.6 504A13.3 13.3 0 0 1 388.2 504Z" fill="#FF8000"/>
<circle cx="378.4" cy="509" r="12" fill="#fff" stroke="#FF8000" stroke-width="2.6"/><path d="M365.1 510A13.3 13.3 0 0 1 391.7 510Z" fill="#FF8000"/>
<circle cx="382.1" cy="515" r="12" fill="#fff" stroke="#FF8000" stroke-width="2.6"/><path d="M368.8 516A13.3 13.3 0 0 1 395.4 516Z" fill="#FF8000"/>
<circle cx="386" cy="519.5" r="12" fill="#fff" stroke="#FF8000" stroke-width="2.6"/><path d="M372.7 520.5A13.3 13.3 0 0 1 399.3 520.5Z" fill="#FF8000"/>
<circle cx="390" cy="524.5" r="12" fill="#fff" stroke="#FF8000" stroke-width="2.6"/><path d="M376.7 525.5A13.3 13.3 0 0 1 403.3 525.5Z" fill="#FF8000"/>
<circle cx="394.2" cy="529" r="12" fill="#fff" stroke="#FF8000" stroke-width="2.6"/><path d="M380.9 530A13.3 13.3 0 0 1 407.5 530Z" fill="#FF8000"/>
<circle cx="398.6" cy="533" r="12" fill="#fff" stroke="#FF8000" stroke-width="2.6"/><path d="M385.3 534A13.3 13.3 0 0 1 411.9 534Z" fill="#FF8000"/>
<circle cx="403.2" cy="534" r="12" fill="#fff" stroke="#FF8000" stroke-width="2.6"/><path d="M389.9 535A13.3 13.3 0 0 1 416.5 535Z" fill="#FF8000"/>
<circle cx="408.1" cy="534.3" r="12" fill="#fff" stroke="#FF8000" stroke-width="2.6"/><path d="M394.8 535.3A13.3 13.3 0 0 1 421.4 535.3Z" fill="#FF8000"/>
<circle cx="413.1" cy="535.8" r="12" fill="#fff" stroke="#FF8000" stroke-width="2.6"/><path d="M399.8 536.8A13.3 13.3 0 0 1 426.4 536.8Z" fill="#FF8000"/>
<circle cx="418.5" cy="537.3" r="12" fill="#fff" stroke="#FF8000" stroke-width="2.6"/><path d="M405.2 538.3A13.3 13.3 0 0 1 431.8 538.3Z" fill="#FF8000"/>
<circle cx="424" cy="541" r="12" fill="#fff" stroke="#FF8000" stroke-width="2.6"/><path d="M410.7 542A13.3 13.3 0 0 1 437.3 542Z" fill="#FF8000"/>
<circle cx="429.8" cy="536.4" r="12" fill="#fff" stroke="#FF8000" stroke-width="2.6"/><path d="M416.5 537.4A13.3 13.3 0 0 1 443.1 537.4Z" fill="#FF8000"/>
<circle cx="435.9" cy="537" r="12" fill="#fff" stroke="#FF8000" stroke-width="2.6"/><path d="M422.6 538A13.3 13.3 0 0 1 449.2 538Z" fill="#FF8000"/>
<circle cx="442.3" cy="541" r="12" fill="#fff" stroke="#FF8000" stroke-width="2.6"/><path d="M429 542A13.3 13.3 0 0 1 455.6 542Z" fill="#FF8000"/>
<circle cx="449" cy="546" r="12" fill="#fff" stroke="#FF8000" stroke-width="2.6"/><path d="M435.7 547A13.3 13.3 0 0 1 462.3 547Z" fill="#FF8000"/>
<circle cx="456" cy="549.6" r="12" fill="#fff" stroke="#FF8000" stroke-width="2.6"/><path d="M442.7 550.6A13.3 13.3 0 0 1 469.3 550.6Z" fill="#FF8000"/>
<circle cx="463.3" cy="555" r="12" fill="#fff" stroke="#FF8000" stroke-width="2.6"/><path d="M450 556A13.3 13.3 0 0 1 476.6 556Z" fill="#FF8000"/>
<circle cx="471" cy="560.2" r="12" fill="#fff" stroke="#FF8000" stroke-width="2.6"/><path d="M457.7 561.2A13.3 13.3 0 0 1 484.3 561.2Z" fill="#FF8000"/>
<circle cx="479" cy="563.4" r="12" fill="#fff" stroke="#FF8000" stroke-width="2.6"/><path d="M465.7 564.4A13.3 13.3 0 0 1 492.3 564.4Z" fill="#FF8000"/>
<circle cx="487.4" cy="565.9" r="12" fill="#fff" stroke="#FF8000" stroke-width="2.6"/><path d="M474.1 566.9A13.3 13.3 0 0 1 500.7 566.9Z" fill="#FF8000"/>
<circle cx="496.3" cy="570.2" r="12" fill="#fff" stroke="#FF8000" stroke-width="2.6"/><path d="M483 571.2A13.3 13.3 0 0 1 509.6 571.2Z" fill="#FF8000"/>
<circle cx="505.5" cy="572.8" r="12" fill="#fff" stroke="#FF8000" stroke-width="2.6"/><path d="M492.2 573.8A13.3 13.3 0 0 1 518.8 573.8Z" fill="#FF8000"/>
<circle cx="515.1" cy="579" r="12" fill="#fff" stroke="#FF8000" stroke-width="2.6"/><path d="M501.8 580A13.3 13.3 0 0 1 528.4 580Z" fill="#FF8000"/>
<circle cx="525.3" cy="580.3" r="12" fill="#fff" stroke="#FF8000" stroke-width="2.6"/><path d="M512 581.3A13.3 13.3 0 0 1 538.6 581.3Z" fill="#FF8000"/>
<circle cx="535.9" cy="581.5" r="12" fill="#fff" stroke="#FF8000" stroke-width="2.6"/><path d="M522.6 582.5A13.3 13.3 0 0 1 549.2 582.5Z" fill="#FF8000"/>
<circle cx="546.9" cy="584.7" r="12" fill="#fff" stroke="#FF8000" stroke-width="2.6"/><path d="M533.6 585.7A13.3 13.3 0 0 1 560.2 585.7Z" fill="#FF8000"/>
<circle cx="558.6" cy="591.5" r="12" fill="#fff" stroke="#FF8000" stroke-width="2.6"/><path d="M545.3 592.5A13.3 13.3 0 0 1 571.9 592.5Z" fill="#FF8000"/>
<circle cx="570.7" cy="591" r="12" fill="#fff" stroke="#FF8000" stroke-width="2.6"/><path d="M557.4 592A13.3 13.3 0 0 1 584 592Z" fill="#FF8000"/>
<circle cx="583.5" cy="593.3" r="12" fill="#fff" stroke="#FF8000" stroke-width="2.6"/><path d="M570.2 594.3A13.3 13.3 0 0 1 596.8 594.3Z" fill="#FF8000"/>
<circle cx="596.8" cy="597" r="12" fill="#fff" stroke="#FF8000" stroke-width="2.6"/><path d="M583.5 598A13.3 13.3 0 0 1 610.1 598Z" fill="#FF8000"/>
<circle cx="610.8" cy="599.2" r="12" fill="#fff" stroke="#FF8000" stroke-width="2.6"/><path d="M597.5 600.2A13.3 13.3 0 0 1 624.1 600.2Z" fill="#FF8000"/>
<circle cx="625.4" cy="606.8" r="12" fill="#fff" stroke="#FF8000" stroke-width="2.6"/><path d="M612.1 607.8A13.3 13.3 0 0 1 638.7 607.8Z" fill="#FF8000"/>
<circle cx="640.7" cy="603.1" r="12" fill="#fff" stroke="#FF8000" stroke-width="2.6"/><path d="M627.4 604.1A13.3 13.3 0 0 1 654 604.1Z" fill="#FF8000"/>
<circle cx="656.7" cy="606.4" r="12" fill="#fff" stroke="#FF8000" stroke-width="2.6"/><path d="M643.4 607.4A13.3 13.3 0 0 1 670 607.4Z" fill="#FF8000"/>
<circle cx="673.5" cy="608.3" r="12" fill="#fff" stroke="#FF8000" stroke-width="2.6"/><path d="M660.2 609.3A13.3 13.3 0 0 1 686.8 609.3Z" fill="#FF8000"/>
<circle cx="691.1" cy="616.4" r="12" fill="#fff" stroke="#FF8000" stroke-width="2.6"/><path d="M677.8 617.4A13.3 13.3 0 0 1 704.4 617.4Z" fill="#FF8000"/>
<circle cx="709.5" cy="617.1" r="12" fill="#fff" stroke="#FF8000" stroke-width="2.6"/><path d="M696.2 618.1A13.3 13.3 0 0 1 722.8 618.1Z" fill="#FF8000"/>
<circle cx="728.8" cy="620.2" r="12" fill="#fff" stroke="#FF8000" stroke-width="2.6"/><path d="M715.5 621.2A13.3 13.3 0 0 1 742.1 621.2Z" fill="#FF8000"/>
<circle cx="749" cy="626.2" r="12" fill="#fff" stroke="#FF8000" stroke-width="2.6"/><path d="M735.7 627.2A13.3 13.3 0 0 1 762.3 627.2Z" fill="#FF8000"/>
<circle cx="770.1" cy="629" r="12" fill="#fff" stroke="#FF8000" stroke-width="2.6"/><path d="M756.8 630A13.3 13.3 0 0 1 783.4 630Z" fill="#FF8000"/>
<circle cx="792.2" cy="632.1" r="12" fill="#fff" stroke="#FF8000" stroke-width="2.6"/><path d="M778.9 633.1A13.3 13.3 0 0 1 805.5 633.1Z" fill="#FF8000"/>
<circle cx="815.4" cy="634.4" r="12" fill="#fff" stroke="#FF8000" stroke-width="2.6"/><path d="M802.1 635.4A13.3 13.3 0 0 1 828.7 635.4Z" fill="#FF8000"/>
<circle cx="839.7" cy="634.4" r="12" fill="#fff" stroke="#FF8000" stroke-width="2.6"/><path d="M826.4 635.4A13.3 13.3 0 0 1 853 635.4Z" fill="#FF8000"/>
<circle cx="865.1" cy="647.4" r="12" fill="#fff" stroke="#FF8000" stroke-width="2.6"/><path d="M851.8 648.4A13.3 13.3 0 0 1 878.4 648.4Z" fill="#FF8000"/>
<circle cx="891.7" cy="646.6" r="12" fill="#fff" stroke="#FF8000" stroke-width="2.6"/><path d="M878.4 647.6A13.3 13.3 0 0 1 905 647.6Z" fill="#FF8000"/>
<circle cx="919.5" cy="649.4" r="12" fill="#fff" stroke="#FF8000" stroke-width="2.6"/><path d="M906.2 650.4A13.3 13.3 0 0 1 932.8 650.4Z" fill="#FF8000"/>
<circle cx="948.7" cy="654.4" r="12" fill="#fff" stroke="#FF8000" stroke-width="2.6"/><path d="M935.4 655.4A13.3 13.3 0 0 1 962 655.4Z" fill="#FF8000"/>
<circle cx="979.3" cy="658.1" r="12" fill="#fff" stroke="#FF8000" stroke-width="2.6"/><path d="M966 659.1A13.3 13.3 0 0 1 992.6 659.1Z" fill="#FF8000"/>
<circle cx="1011.3" cy="660.1" r="12" fill="#fff" stroke="#FF8000" stroke-width="2.6"/><path d="M998 661.1A13.3 13.3 0 0 1 1024.6 661.1Z" fill="#FF8000"/>
<circle cx="1044.8" cy="664.4" r="12" fill="#fff" stroke="#FF8000" stroke-width="2.6"/><path d="M1031.5 665.4A13.3 13.3 0 0 1 1058.1 665.4Z" fill="#FF8000"/>
<circle cx="1079.8" cy="668.1" r="12" fill="#fff" stroke="#FF8000" stroke-width="2.6"/><path d="M1066.5 669.1A13.3 13.3 0 0 1 1093.1 669.1Z" fill="#FF8000"/>
<circle cx="1116.6" cy="669.4" r="12" fill="#fff" stroke="#FF8000" stroke-width="2.6"/><path d="M1103.3 670.4A13.3 13.3 0 0 1 1129.9 670.4Z" fill="#FF8000"/>
<circle cx="1155" cy="671.9" r="12" fill="#fff" stroke="#FF8000" stroke-width="2.6"/><path d="M1141.7 672.9A13.3 13.3 0 0 1 1168.3 672.9Z" fill="#FF8000"/>
<circle cx="1195.3" cy="674.4" r="12" fill="#fff" stroke="#FF8000" stroke-width="2.6"/><path d="M1182 675.4A13.3 13.3 0 0 1 1208.6 675.4Z" fill="#FF8000"/>
<circle cx="1237.5" cy="680.1" r="12" fill="#fff" stroke="#FF8000" stroke-width="2.6"/><path d="M1224.2 681.1A13.3 13.3 0 0 1 1250.8 681.1Z" fill="#FF8000"/>
<circle cx="1281.6" cy="680.9" r="12" fill="#fff" stroke="#FF8000" stroke-width="2.6"/><path d="M1268.3 681.9A13.3 13.3 0 0 1 1294.9 681.9Z" fill="#FF8000"/>
<circle cx="1327.9" cy="683.2" r="12" fill="#fff" stroke="#FF8000" stroke-width="2.6"/><path d="M1314.6 684.2A13.3 13.3 0 0 1 1341.2 684.2Z" fill="#FF8000"/>
<circle cx="1376.3" cy="685.9" r="12" fill="#fff" stroke="#FF8000" stroke-width="2.6"/><path d="M1363 686.9A13.3 13.3 0 0 1 1389.6 686.9Z" fill="#FF8000"/>
<circle cx="1427" cy="685.6" r="12" fill="#fff" stroke="#FF8000" stroke-width="2.6"/><path d="M1413.7 686.6A13.3 13.3 0 0 1 1440.3 686.6Z" fill="#FF8000"/>
<circle cx="1480.1" cy="694.6" r="12" fill="#fff" stroke="#FF8000" stroke-width="2.6"/><path d="M1466.8 695.6A13.3 13.3 0 0 1 1493.4 695.6Z" fill="#FF8000"/>
<circle cx="1535.7" cy="696.9" r="12" fill="#fff" stroke="#FF8000" stroke-width="2.6"/><path d="M1522.4 697.9A13.3 13.3 0 0 1 1549 697.9Z" fill="#FF8000"/>
<circle cx="1593.9" cy="698.6" r="12" fill="#fff" stroke="#FF8000" stroke-width="2.6"/><path d="M1580.6 699.6A13.3 13.3 0 0 1 1607.2 699.6Z" fill="#FF8000"/>
<circle cx="1654.8" cy="699.6" r="12" fill="#fff" stroke="#FF8000" stroke-width="2.6"/><path d="M1641.5 700.6A13.3 13.3 0 0 1 1668.1 700.6Z" fill="#FF8000"/>
<circle cx="1718.7" cy="703.5" r="12" fill="#fff" stroke="#FF8000" stroke-width="2.6"/><path d="M1705.4 704.5A13.3 13.3 0 0 1 1732 704.5Z" fill="#FF8000"/>
<circle cx="1785.5" cy="705.8" r="12" fill="#fff" stroke="#FF8000" stroke-width="2.6"/><path d="M1772.2 706.8A13.3 13.3 0 0 1 1798.8 706.8Z" fill="#FF8000"/>
<circle cx="1855.5" cy="709.5" r="12" fill="#fff" stroke="#FF8000" stroke-width="2.6"/><path d="M1842.2 710.5A13.3 13.3 0 0 1 1868.8 710.5Z" fill="#FF8000"/>
<circle cx="1928.8" cy="711.3" r="12" fill="#fff" stroke="#FF8000" stroke-width="2.6"/><path d="M1915.5 712.3A13.3 13.3 0 0 1 1942.1 712.3Z" fill="#FF8000"/>
<circle cx="2005.5" cy="712.1" r="12" fill="#fff" stroke="#FF8000" stroke-width="2.6"/><path d="M1992.2 713.1A13.3 13.3 0 0 1 2018.8 713.1Z" fill="#FF8000"/>
</g>
</g>
<rect x="1480" y="67.6" width="506" height="602" fill="#fff"/>
<g shape-rendering="crispEdges">
<rect x="1554.2" y="98.6" width="23.5" height="23.5" fill="#000000"/>
<circle cx="1566" cy="185.1" r="13" fill="#FF3C3C"/>
<path d="M1566 241.5L1581.9 269.1L1550.1 269.1Z" fill="#0068E0"/>
<path d="M1566 353.1L1581.9 325.5L1550.1 325.5Z" fill="#00AB66"/>
<path d="M1547.6 409.5L1575.2 393.6L1575.2 425.4Z" fill="#FF00FF"/>
<path d="M1584.4 484.3L1556.8 468.4L1556.8 500.2Z" fill="#00FFFF"/>
<rect x="1555.4" y="548.5" width="21.2" height="21.2" fill="#fff" stroke="#9400FF" stroke-width="2.4"/><rect x="1554.2" y="547.3" width="23.6" height="12.6" fill="#9400FF"/>
<circle cx="1566" cy="633.9" r="12" fill="#fff" stroke="#FF8000" stroke-width="2.6"/><path d="M1552.7 634.9A13.3 13.3 0 0 1 1579.3 634.9Z" fill="#FF8000"/>
</g>
<g font-size="60.8" style="white-space:pre">
<text transform="translate(1649.6,130.9) scale(1,1.04)" xml:space="preserve">S1   initial</text>
<text transform="translate(1649.6,205.7) scale(1,1.04)" xml:space="preserve">S1   24h UV</text>
<text transform="translate(1649.6,280.5) scale(1,1.04)" xml:space="preserve">S1   48h UV</text>
<text transform="translate(1649.6,355.3) scale(1,1.04)" xml:space="preserve">S1   72h UV</text>
<text transform="translate(1649.6,430.1) scale(1,1.04)" xml:space="preserve">S1   96h UV</text>
<text transform="translate(1649.6,504.9) scale(1,1.04)" xml:space="preserve">S1 120h UV</text>
<text transform="translate(1649.6,579.7) scale(1,1.04)" xml:space="preserve">S1 144h UV</text>
<text transform="translate(1649.6,654.5) scale(1,1.04)" xml:space="preserve">S1 168h UV</text>
</g>
</svg></body></html>
